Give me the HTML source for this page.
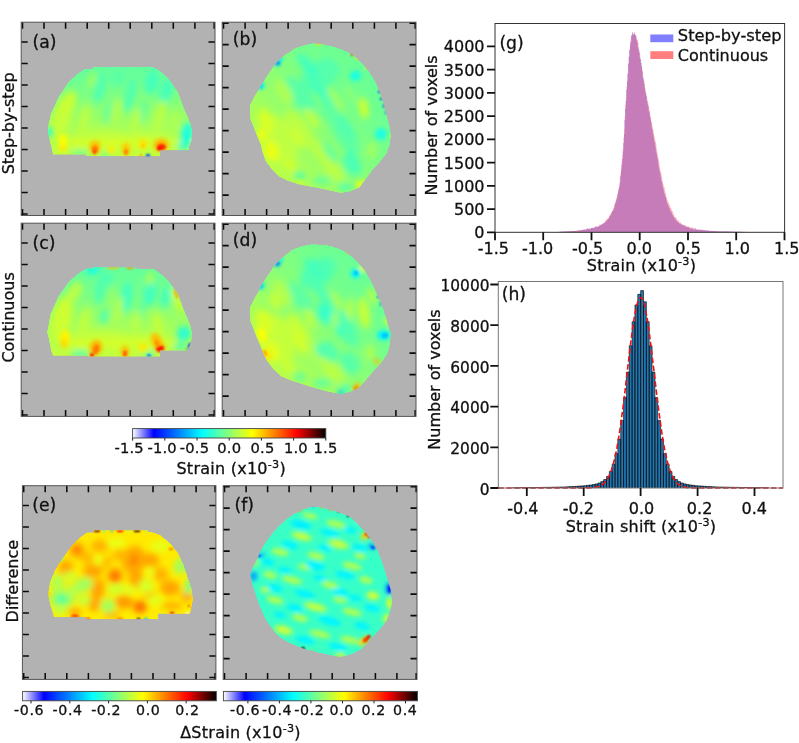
<!DOCTYPE html>
<html><head><meta charset="utf-8"><title>Figure</title>
<style>html,body{margin:0;padding:0;background:#fff}svg{display:block}text{stroke:#111;stroke-width:.3px}</style></head>
<body>
<svg width="799" height="743" viewBox="0 0 799 743" font-family='"DejaVu Sans","Liberation Sans",sans-serif' fill="#111">
<defs>
<linearGradient id="cm" x1="0" x2="1" y1="0" y2="0"><stop offset="0" stop-color="#ffffff"/><stop offset="0.11" stop-color="#0000ff"/><stop offset="0.36" stop-color="#00ffff"/><stop offset="0.49" stop-color="#80ff80"/><stop offset="0.62" stop-color="#ffff00"/><stop offset="0.85" stop-color="#ff0000"/><stop offset="1" stop-color="#000000"/></linearGradient>
<filter id="b2" x="-50%" y="-50%" width="200%" height="200%"><feGaussianBlur stdDeviation="2"/></filter>
<filter id="b3" x="-50%" y="-50%" width="200%" height="200%"><feGaussianBlur stdDeviation="3"/></filter>
<filter id="b1" x="-50%" y="-50%" width="200%" height="200%"><feGaussianBlur stdDeviation="1.2"/></filter>
<linearGradient id="ga" gradientUnits="userSpaceOnUse" x1="0" y1="67" x2="0" y2="156"><stop offset="0" stop-color="#62ff9d"/><stop offset="0.3" stop-color="#7bff85"/><stop offset="0.6" stop-color="#9dff62"/><stop offset="1" stop-color="#c4ff3b"/></linearGradient><clipPath id="ca"><polygon points="85.0,68.8 93.0,68.8 93.0,66.8 152.0,66.8 156.0,68.6 160.0,71.0 168.0,78.0 178.0,92.0 184.0,108.0 190.0,122.0 192.0,130.0 191.6,140.0 189.0,148.0 189.0,150.4 160.0,150.4 160.0,156.4 86.0,156.4 86.0,154.6 53.0,154.6 50.0,142.0 47.6,131.0 48.5,124.0 50.8,114.0 58.5,97.0 68.5,82.0 78.0,73.5"/></clipPath><linearGradient id="gc" gradientUnits="userSpaceOnUse" x1="0" y1="267.6" x2="0" y2="356.6"><stop offset="0" stop-color="#62ff9d"/><stop offset="0.3" stop-color="#7bff85"/><stop offset="0.6" stop-color="#9dff62"/><stop offset="1" stop-color="#c4ff3b"/></linearGradient><clipPath id="cc"><polygon points="87.0,268.4 93.0,268.4 93.0,267.2 135.0,267.2 135.0,268.4 154.0,269.1 160.0,273.1 168.0,280.1 178.0,294.1 184.0,310.1 190.0,324.1 192.0,332.1 191.6,340.1 188.0,350.2 188.0,350.6 160.0,350.6 160.0,356.6 88.0,356.6 88.0,355.8 53.0,355.8 51.0,350.6 49.0,340.1 47.0,332.1 48.5,324.6 50.5,314.1 58.5,296.1 68.5,282.1 78.5,273.1"/></clipPath><linearGradient id="gb" gradientUnits="userSpaceOnUse" x1="262" y1="160" x2="372" y2="70"><stop offset="0" stop-color="#bbff45"/><stop offset="0.35" stop-color="#94ff6c"/><stop offset="0.7" stop-color="#76ff8a"/><stop offset="1" stop-color="#67ff98"/></linearGradient><clipPath id="cb"><polygon points="313.2,43.3 322.0,44.0 331.6,46.0 342.0,49.5 352.2,54.0 362.0,63.0 370.5,73.5 375.5,82.0 379.6,91.8 383.5,103.0 386.5,114.7 389.5,126.0 391.0,135.3 389.8,145.0 386.5,153.6 380.0,162.0 372.8,169.6 366.0,179.0 359.0,187.9 350.0,191.5 340.7,193.0 329.0,190.5 317.8,187.9 308.0,186.3 299.5,184.5 288.0,181.0 278.9,176.5 271.0,168.5 265.2,160.5 262.5,152.0 260.6,144.4 255.0,131.0 250.3,119.3 249.6,105.5 255.5,94.5 262.9,82.6 269.5,72.0 276.6,62.0 285.5,54.5 294.9,48.3 304.0,45.2"/></clipPath><linearGradient id="gd" gradientUnits="userSpaceOnUse" x1="262" y1="361" x2="372" y2="271"><stop offset="0" stop-color="#bbff45"/><stop offset="0.35" stop-color="#94ff6c"/><stop offset="0.7" stop-color="#76ff8a"/><stop offset="1" stop-color="#67ff98"/></linearGradient><clipPath id="cd"><polygon points="311.0,244.2 320.0,244.6 329.3,245.6 338.5,248.5 347.6,252.9 356.5,261.0 364.7,270.0 370.0,279.5 375.0,289.5 379.0,298.5 383.0,307.8 387.0,321.0 391.0,334.0 390.0,344.5 387.6,353.6 382.0,362.0 375.0,369.6 367.0,379.0 359.0,387.9 350.0,392.0 340.7,394.3 329.0,392.0 317.8,389.0 308.5,386.3 299.5,383.3 290.0,380.2 281.2,376.5 273.5,369.5 267.5,361.6 264.0,355.0 261.7,349.0 256.0,335.5 250.3,321.5 249.6,307.8 256.0,295.5 262.9,282.6 268.5,274.0 274.3,265.5 283.0,257.0 292.6,249.5 301.5,246.2"/></clipPath><linearGradient id="ge" gradientUnits="userSpaceOnUse" x1="0" y1="530" x2="0" y2="620"><stop offset="0" stop-color="#ffe900"/><stop offset="1" stop-color="#ffee00"/></linearGradient><clipPath id="ce"><polygon points="87.0,532.4 94.0,532.4 94.0,530.2 148.0,530.2 148.0,532.0 152.0,532.0 160.0,535.0 170.0,543.0 178.0,553.0 184.0,566.0 188.0,578.0 192.0,590.0 193.0,600.0 190.5,612.0 189.5,613.8 158.0,613.8 158.0,619.2 86.0,619.2 86.0,617.2 54.0,617.2 50.0,604.0 48.0,594.0 50.0,582.0 55.0,570.0 62.0,559.0 70.0,548.0 78.0,539.0"/></clipPath><linearGradient id="gf" gradientUnits="userSpaceOnUse" x1="0" y1="506" x2="0" y2="657"><stop offset="0" stop-color="#3bffc4"/><stop offset="0.5" stop-color="#36ffc9"/><stop offset="1" stop-color="#3bffc4"/></linearGradient><clipPath id="cf"><polygon points="313.2,506.4 322.0,507.5 331.6,509.9 341.0,513.0 349.9,516.7 358.0,524.0 365.9,532.8 372.0,541.0 377.3,549.9 381.0,559.0 384.2,568.2 387.8,580.0 391.0,591.0 392.2,602.6 390.0,612.0 386.5,620.9 381.0,628.0 375.0,634.6 368.0,642.5 361.3,649.5 351.0,654.5 340.7,657.0 330.0,655.2 320.0,652.9 309.5,650.5 299.5,647.2 289.0,642.8 278.9,636.9 271.5,628.0 265.2,618.6 260.0,607.0 256.0,595.7 252.5,585.0 250.3,575.1 252.5,568.0 256.0,561.4 260.0,552.0 265.2,543.0 271.0,535.0 277.8,527.0 286.0,519.5 294.9,513.3 304.0,509.0"/></clipPath>
</defs>
<rect width="799" height="743" fill="#fff"/>
<rect x="21.2" y="22.2" width="193.8" height="193.3" fill="#b2b2b2"/>
<g clip-path="url(#ca)" shape-rendering="crispEdges"><polygon points="85.0,68.8 93.0,68.8 93.0,66.8 152.0,66.8 156.0,68.6 160.0,71.0 168.0,78.0 178.0,92.0 184.0,108.0 190.0,122.0 192.0,130.0 191.6,140.0 189.0,148.0 189.0,150.4 160.0,150.4 160.0,156.4 86.0,156.4 86.0,154.6 53.0,154.6 50.0,142.0 47.6,131.0 48.5,124.0 50.8,114.0 58.5,97.0 68.5,82.0 78.0,73.5" fill="url(#ga)"/><g filter="url(#b3)"><ellipse cx="62.0" cy="118.0" rx="9" ry="24" fill="#c4ff3b" transform="rotate(15 62.0 118.0)"/><ellipse cx="100.0" cy="137.0" rx="30" ry="8" fill="#bbff45"/><ellipse cx="150.0" cy="139.0" rx="22" ry="7" fill="#bbff45"/><ellipse cx="100.0" cy="88.0" rx="5" ry="16" fill="#4fffb1" transform="rotate(12 100.0 88.0)"/><ellipse cx="130.0" cy="95.0" rx="5" ry="18" fill="#4fffb1" transform="rotate(12 130.0 95.0)"/><ellipse cx="152.0" cy="82.0" rx="7" ry="12" fill="#45ffbb" transform="rotate(10 152.0 82.0)"/><ellipse cx="166.0" cy="92.0" rx="6" ry="14" fill="#45ffbb" transform="rotate(15 166.0 92.0)"/><ellipse cx="118.0" cy="78.0" rx="6" ry="8" fill="#59ffa7"/><ellipse cx="143.0" cy="112.0" rx="4" ry="12" fill="#62ff9d" transform="rotate(12 143.0 112.0)"/><ellipse cx="108.0" cy="112.0" rx="4" ry="12" fill="#6cff94" transform="rotate(12 108.0 112.0)"/><ellipse cx="92.0" cy="80.0" rx="4" ry="9" fill="#9dff62" transform="rotate(15 92.0 80.0)"/><ellipse cx="68.0" cy="104.0" rx="7" ry="14" fill="#c9ff36" transform="rotate(20 68.0 104.0)"/><ellipse cx="116.0" cy="112.0" rx="4" ry="14" fill="#b6ff4a" transform="rotate(12 116.0 112.0)"/><ellipse cx="136.0" cy="122.0" rx="4" ry="14" fill="#bbff45" transform="rotate(12 136.0 122.0)"/><ellipse cx="160.0" cy="116.0" rx="5" ry="16" fill="#bbff45" transform="rotate(12 160.0 116.0)"/><ellipse cx="84.0" cy="120.0" rx="5" ry="16" fill="#bbff45" transform="rotate(12 84.0 120.0)"/><ellipse cx="60.0" cy="125.0" rx="6" ry="10" fill="#c4ff3b"/><ellipse cx="175.0" cy="120.0" rx="4" ry="10" fill="#b1ff4f" transform="rotate(10 175.0 120.0)"/><ellipse cx="187.0" cy="134.0" rx="6" ry="12" fill="#19ffe7" transform="rotate(8 187.0 134.0)"/><ellipse cx="183.0" cy="146.0" rx="6" ry="4" fill="#27ffd8"/><ellipse cx="120.0" cy="143.0" rx="60" ry="6" fill="#d3ff2c"/><ellipse cx="80.0" cy="153.0" rx="9" ry="2.5" fill="#45ffbb"/><ellipse cx="106.0" cy="155.0" rx="6" ry="2" fill="#4fffb1"/></g><g filter="url(#b2)"><ellipse cx="63.0" cy="143.0" rx="4.5" ry="9" fill="#ffff00" transform="rotate(5 63.0 143.0)"/><ellipse cx="63.0" cy="148.0" rx="3" ry="4" fill="#ffe900"/><ellipse cx="95.0" cy="147.0" rx="5.5" ry="6.5" fill="#ffbc00"/><ellipse cx="111.0" cy="150.0" rx="3.5" ry="4" fill="#ffee00"/><ellipse cx="126.0" cy="149.0" rx="4" ry="6" fill="#ffc800"/><ellipse cx="143.0" cy="144.0" rx="4" ry="5" fill="#ffe300"/><ellipse cx="161.0" cy="145.0" rx="7.5" ry="6" fill="#ffb100"/><ellipse cx="50.0" cy="132.0" rx="2.5" ry="5" fill="#14ffeb"/></g><g filter="url(#b1)"><ellipse cx="95.0" cy="149.5" rx="3" ry="3.8" fill="#ff7a00"/><ellipse cx="94.5" cy="152.0" rx="1.8" ry="2.2" fill="#ff4300"/><ellipse cx="126.0" cy="152.0" rx="2" ry="3.2" fill="#ff8500"/><ellipse cx="143.0" cy="146.0" rx="1.6" ry="1.8" fill="#ffc800"/><ellipse cx="161.5" cy="147.0" rx="4.2" ry="2.8" fill="#ff2c00"/><ellipse cx="159.5" cy="149.0" rx="2.6" ry="1.6" fill="#ff0000"/><ellipse cx="148.0" cy="155.3" rx="2.6" ry="1.6" fill="#005cff"/><ellipse cx="141.0" cy="155.5" rx="1.5" ry="1.2" fill="#ffa600"/><ellipse cx="190.6" cy="140.4" rx="1.1" ry="1.1" fill="#ffffff"/></g></g>
<path d="M22.5 22.2v6.5M22.5 215.5v-6.5M44.0 22.2v6.5M44.0 215.5v-6.5M65.6 22.2v6.5M65.6 215.5v-6.5M87.2 22.2v6.5M87.2 215.5v-6.5M108.7 22.2v6.5M108.7 215.5v-6.5M130.2 22.2v6.5M130.2 215.5v-6.5M151.8 22.2v6.5M151.8 215.5v-6.5M173.3 22.2v6.5M173.3 215.5v-6.5M194.9 22.2v6.5M194.9 215.5v-6.5M214.2 22.2v6.5M214.2 215.5v-6.5M21.2 42.0h6.5M215.0 42.0h-6.5M21.2 63.5h6.5M215.0 63.5h-6.5M21.2 85.0h6.5M215.0 85.0h-6.5M21.2 106.5h6.5M215.0 106.5h-6.5M21.2 128.0h6.5M215.0 128.0h-6.5M21.2 149.5h6.5M215.0 149.5h-6.5M21.2 171.0h6.5M215.0 171.0h-6.5M21.2 192.5h6.5M215.0 192.5h-6.5M21.2 214.0h6.5M215.0 214.0h-6.5" stroke="#0a0a0a" stroke-width="1.55" fill="none"/>
<rect x="21.2" y="22.2" width="193.8" height="193.3" fill="none" stroke="#555" stroke-width="1"/>
<text x="32.5" y="47.8" font-size="17.2">(a)</text>
<rect x="222.2" y="22.2" width="193.8" height="193.3" fill="#b2b2b2"/>
<g clip-path="url(#cb)" shape-rendering="crispEdges"><polygon points="313.2,43.3 322.0,44.0 331.6,46.0 342.0,49.5 352.2,54.0 362.0,63.0 370.5,73.5 375.5,82.0 379.6,91.8 383.5,103.0 386.5,114.7 389.5,126.0 391.0,135.3 389.8,145.0 386.5,153.6 380.0,162.0 372.8,169.6 366.0,179.0 359.0,187.9 350.0,191.5 340.7,193.0 329.0,190.5 317.8,187.9 308.0,186.3 299.5,184.5 288.0,181.0 278.9,176.5 271.0,168.5 265.2,160.5 262.5,152.0 260.6,144.4 255.0,131.0 250.3,119.3 249.6,105.5 255.5,94.5 262.9,82.6 269.5,72.0 276.6,62.0 285.5,54.5 294.9,48.3 304.0,45.2" fill="url(#gb)"/><g filter="url(#b3)"><ellipse cx="320.0" cy="75.0" rx="22" ry="14" fill="#54ffac" transform="rotate(-35 320.0 75.0)"/><ellipse cx="300.0" cy="95.0" rx="10" ry="22" fill="#59ffa7" transform="rotate(-40 300.0 95.0)"/><ellipse cx="345.0" cy="135.0" rx="9" ry="22" fill="#5effa2" transform="rotate(-35 345.0 135.0)"/><ellipse cx="352.0" cy="165.0" rx="9" ry="12" fill="#54ffac" transform="rotate(-30 352.0 165.0)"/><ellipse cx="330.0" cy="112.0" rx="8" ry="14" fill="#62ff9d" transform="rotate(-35 330.0 112.0)"/><ellipse cx="278.0" cy="140.0" rx="18" ry="26" fill="#beff42" transform="rotate(-25 278.0 140.0)"/><ellipse cx="300.0" cy="128.0" rx="8" ry="22" fill="#bbff45" transform="rotate(-38 300.0 128.0)"/><ellipse cx="318.0" cy="150.0" rx="7" ry="20" fill="#b6ff4a" transform="rotate(-40 318.0 150.0)"/><ellipse cx="335.0" cy="172.0" rx="8" ry="12" fill="#b1ff4f" transform="rotate(-40 335.0 172.0)"/><ellipse cx="284.0" cy="92.0" rx="7" ry="14" fill="#acff54" transform="rotate(-30 284.0 92.0)"/><ellipse cx="308.0" cy="66.0" rx="5" ry="16" fill="#40ffc0" transform="rotate(-40 308.0 66.0)"/><ellipse cx="322.0" cy="92.0" rx="5" ry="18" fill="#45ffbb" transform="rotate(-40 322.0 92.0)"/><ellipse cx="346.0" cy="127.0" rx="5" ry="16" fill="#4fffb1" transform="rotate(-35 346.0 127.0)"/><ellipse cx="330.0" cy="152.0" rx="4" ry="12" fill="#62ff9d" transform="rotate(-35 330.0 152.0)"/><ellipse cx="353.0" cy="160.0" rx="5" ry="12" fill="#4affb6" transform="rotate(-30 353.0 160.0)"/><ellipse cx="312.0" cy="118.0" rx="4" ry="12" fill="#c0ff40" transform="rotate(-35 312.0 118.0)"/><ellipse cx="298.0" cy="138.0" rx="4" ry="12" fill="#ceff31" transform="rotate(-35 298.0 138.0)"/><ellipse cx="336.0" cy="100.0" rx="4" ry="14" fill="#a2ff5e" transform="rotate(-35 336.0 100.0)"/><ellipse cx="330.0" cy="168.0" rx="5" ry="12" fill="#bbff45" transform="rotate(-40 330.0 168.0)"/><ellipse cx="290.0" cy="165.0" rx="6" ry="8" fill="#ceff31" transform="rotate(-30 290.0 165.0)"/><ellipse cx="363.6" cy="108.0" rx="4.5" ry="11" fill="#d3ff2c" transform="rotate(-10 363.6 108.0)"/><ellipse cx="372.0" cy="150.0" rx="5" ry="8" fill="#a2ff5e"/><ellipse cx="350.0" cy="95.0" rx="4" ry="10" fill="#8aff76" transform="rotate(-30 350.0 95.0)"/><ellipse cx="266.0" cy="122.0" rx="7" ry="14" fill="#d8ff27" transform="rotate(-15 266.0 122.0)"/><ellipse cx="272.0" cy="150.0" rx="7" ry="11" fill="#e7ff19" transform="rotate(-30 272.0 150.0)"/><ellipse cx="322.0" cy="181.0" rx="10" ry="4" fill="#67ff98"/><ellipse cx="345.0" cy="187.0" rx="8" ry="3" fill="#45ffbb"/><ellipse cx="300.0" cy="176.0" rx="6" ry="4" fill="#4fffb1" transform="rotate(20 300.0 176.0)"/><ellipse cx="340.0" cy="60.0" rx="8" ry="5" fill="#71ff8f" transform="rotate(20 340.0 60.0)"/></g><g filter="url(#b2)"><ellipse cx="355.6" cy="75.8" rx="5.5" ry="5" fill="#19ffe7"/><ellipse cx="381.0" cy="134.0" rx="6" ry="6" fill="#1effe2"/><ellipse cx="262.0" cy="135.0" rx="3.5" ry="7" fill="#ebff14" transform="rotate(-10 262.0 135.0)"/><ellipse cx="270.0" cy="154.0" rx="3.5" ry="6" fill="#ebff14" transform="rotate(-35 270.0 154.0)"/><ellipse cx="278.0" cy="63.5" rx="3" ry="2" fill="#00c2ff" transform="rotate(-40 278.0 63.5)"/><ellipse cx="262.0" cy="86.0" rx="2" ry="4" fill="#00ebff" transform="rotate(30 262.0 86.0)"/><ellipse cx="360.0" cy="184.0" rx="5" ry="3" fill="#ebff14" transform="rotate(-40 360.0 184.0)"/><ellipse cx="300.0" cy="182.5" rx="4" ry="2" fill="#d8ff27" transform="rotate(10 300.0 182.5)"/></g><g filter="url(#b1)"><ellipse cx="278.3" cy="63.0" rx="2.4" ry="1.4" fill="#0099ff" transform="rotate(-40 278.3 63.0)"/><ellipse cx="282.0" cy="59.5" rx="2" ry="1.2" fill="#00ffff" transform="rotate(-40 282.0 59.5)"/><ellipse cx="261.5" cy="86.5" rx="1.4" ry="3" fill="#00e0ff" transform="rotate(30 261.5 86.5)"/><ellipse cx="352.0" cy="54.5" rx="1.8" ry="1.2" fill="#ff3700" transform="rotate(40 352.0 54.5)"/><ellipse cx="356.0" cy="58.5" rx="2" ry="1" fill="#ffd300" transform="rotate(40 356.0 58.5)"/><ellipse cx="318.0" cy="44.0" rx="3" ry="1" fill="#ffd300"/><ellipse cx="366.0" cy="68.0" rx="1.4" ry="1.4" fill="#ffe900"/><ellipse cx="379.0" cy="92.0" rx="1" ry="1.6" fill="#0029ff"/><ellipse cx="381.0" cy="99.0" rx="1" ry="1.6" fill="#0029ff"/><ellipse cx="383.5" cy="106.0" rx="1" ry="1.6" fill="#0029ff"/><ellipse cx="385.5" cy="112.5" rx="1" ry="1.2" fill="#0047ff"/><ellipse cx="391.0" cy="136.0" rx="1.2" ry="1.2" fill="#ebff14"/></g></g>
<path d="M223.5 22.2v6.5M223.5 215.5v-6.5M245.1 22.2v6.5M245.1 215.5v-6.5M266.6 22.2v6.5M266.6 215.5v-6.5M288.1 22.2v6.5M288.1 215.5v-6.5M309.7 22.2v6.5M309.7 215.5v-6.5M331.2 22.2v6.5M331.2 215.5v-6.5M352.8 22.2v6.5M352.8 215.5v-6.5M374.4 22.2v6.5M374.4 215.5v-6.5M395.9 22.2v6.5M395.9 215.5v-6.5M415.2 22.2v6.5M415.2 215.5v-6.5M222.2 23.1h6.5M416.0 23.1h-6.5M222.2 44.6h6.5M416.0 44.6h-6.5M222.2 66.1h6.5M416.0 66.1h-6.5M222.2 87.6h6.5M416.0 87.6h-6.5M222.2 109.1h6.5M416.0 109.1h-6.5M222.2 130.6h6.5M416.0 130.6h-6.5M222.2 152.1h6.5M416.0 152.1h-6.5M222.2 173.6h6.5M416.0 173.6h-6.5M222.2 195.1h6.5M416.0 195.1h-6.5" stroke="#0a0a0a" stroke-width="1.55" fill="none"/>
<rect x="222.2" y="22.2" width="193.8" height="193.3" fill="none" stroke="#555" stroke-width="1"/>
<text x="232.8" y="45.1" font-size="17.2">(b)</text>
<rect x="21.2" y="223.2" width="193.8" height="193.2" fill="#b2b2b2"/>
<g clip-path="url(#cc)" shape-rendering="crispEdges"><polygon points="87.0,268.4 93.0,268.4 93.0,267.2 135.0,267.2 135.0,268.4 154.0,269.1 160.0,273.1 168.0,280.1 178.0,294.1 184.0,310.1 190.0,324.1 192.0,332.1 191.6,340.1 188.0,350.2 188.0,350.6 160.0,350.6 160.0,356.6 88.0,356.6 88.0,355.8 53.0,355.8 51.0,350.6 49.0,340.1 47.0,332.1 48.5,324.6 50.5,314.1 58.5,296.1 68.5,282.1 78.5,273.1" fill="url(#gc)"/><g filter="url(#b3)"><ellipse cx="62.0" cy="318.6" rx="10" ry="24" fill="#c9ff36" transform="rotate(15 62.0 318.6)"/><ellipse cx="100.0" cy="337.6" rx="30" ry="8" fill="#c0ff40"/><ellipse cx="150.0" cy="339.6" rx="20" ry="7" fill="#c0ff40"/><ellipse cx="100.0" cy="290.6" rx="5" ry="14" fill="#4fffb1" transform="rotate(10 100.0 290.6)"/><ellipse cx="127.0" cy="296.6" rx="6" ry="16" fill="#45ffbb" transform="rotate(5 127.0 296.6)"/><ellipse cx="150.0" cy="292.6" rx="7" ry="14" fill="#45ffbb" transform="rotate(10 150.0 292.6)"/><ellipse cx="166.0" cy="296.6" rx="5" ry="12" fill="#45ffbb" transform="rotate(15 166.0 296.6)"/><ellipse cx="106.0" cy="278.6" rx="7" ry="7" fill="#4fffb1"/><ellipse cx="92.0" cy="270.6" rx="6" ry="4" fill="#27ffd8"/><ellipse cx="104.0" cy="316.6" rx="4" ry="8" fill="#4fffb1" transform="rotate(10 104.0 316.6)"/><ellipse cx="140.0" cy="312.6" rx="4" ry="12" fill="#62ff9d" transform="rotate(12 140.0 312.6)"/><ellipse cx="74.0" cy="292.6" rx="6" ry="12" fill="#bbff45" transform="rotate(30 74.0 292.6)"/><ellipse cx="62.0" cy="315.6" rx="8" ry="14" fill="#ceff31" transform="rotate(10 62.0 315.6)"/><ellipse cx="118.0" cy="310.6" rx="4" ry="14" fill="#b1ff4f" transform="rotate(12 118.0 310.6)"/><ellipse cx="136.0" cy="322.6" rx="4" ry="12" fill="#bbff45" transform="rotate(12 136.0 322.6)"/><ellipse cx="158.0" cy="325.6" rx="5" ry="14" fill="#c4ff3b" transform="rotate(-10 158.0 325.6)"/><ellipse cx="84.0" cy="322.6" rx="5" ry="16" fill="#c0ff40" transform="rotate(12 84.0 322.6)"/><ellipse cx="150.0" cy="278.6" rx="4" ry="7" fill="#a7ff59" transform="rotate(10 150.0 278.6)"/><ellipse cx="112.0" cy="296.6" rx="3" ry="10" fill="#9dff62" transform="rotate(10 112.0 296.6)"/><ellipse cx="184.0" cy="333.6" rx="7" ry="8" fill="#27ffd8" transform="rotate(10 184.0 333.6)"/><ellipse cx="180.0" cy="346.6" rx="7" ry="4" fill="#4fffb1"/><ellipse cx="118.0" cy="343.6" rx="58" ry="6" fill="#d3ff2c"/><ellipse cx="80.0" cy="353.6" rx="9" ry="3" fill="#31ffce"/><ellipse cx="149.0" cy="354.6" rx="6" ry="2.2" fill="#14ffeb"/><ellipse cx="177.0" cy="300.6" rx="2.5" ry="14" fill="#ebff14" transform="rotate(-20 177.0 300.6)"/></g><g filter="url(#b2)"><ellipse cx="65.0" cy="338.6" rx="5" ry="9" fill="#fff400" transform="rotate(5 65.0 338.6)"/><ellipse cx="64.0" cy="343.6" rx="3" ry="5" fill="#ffd800"/><ellipse cx="96.0" cy="347.6" rx="6" ry="7.5" fill="#ffb100" transform="rotate(15 96.0 347.6)"/><ellipse cx="125.0" cy="351.6" rx="4" ry="5.5" fill="#ffbc00"/><ellipse cx="143.0" cy="347.6" rx="4" ry="4" fill="#ffe900"/><ellipse cx="157.0" cy="341.6" rx="5" ry="9" fill="#ffbc00" transform="rotate(-25 157.0 341.6)"/><ellipse cx="160.0" cy="347.6" rx="5" ry="4" fill="#ffa600"/><ellipse cx="100.0" cy="267.4" rx="4" ry="1.2" fill="#3bffc4"/><ellipse cx="93.0" cy="270.1" rx="5" ry="2.5" fill="#1effe2"/></g><g filter="url(#b1)"><ellipse cx="113.0" cy="267.8" rx="7" ry="0.9" fill="#ffbc00"/><ellipse cx="130.0" cy="267.8" rx="4.5" ry="0.9" fill="#ff9000"/><ellipse cx="96.0" cy="349.6" rx="3" ry="4.6" fill="#ff7a00" transform="rotate(20 96.0 349.6)"/><ellipse cx="92.0" cy="355.1" rx="2.4" ry="1.8" fill="#ff2100"/><ellipse cx="125.0" cy="353.6" rx="2.4" ry="3" fill="#ff6400"/><ellipse cx="160.0" cy="348.6" rx="4" ry="2.8" fill="#ff1600" transform="rotate(-20 160.0 348.6)"/><ellipse cx="157.0" cy="343.6" rx="2" ry="3.6" fill="#ff9000" transform="rotate(-25 157.0 343.6)"/><ellipse cx="176.0" cy="293.6" rx="1.2" ry="6" fill="#ffa600" transform="rotate(-20 176.0 293.6)"/><ellipse cx="189.4" cy="345.6" rx="1.2" ry="2.6" fill="#0029ff" transform="rotate(20 189.4 345.6)"/><ellipse cx="187.0" cy="349.6" rx="1" ry="1" fill="#0029ff"/><ellipse cx="149.0" cy="355.6" rx="2.4" ry="1.3" fill="#0070ff"/></g></g>
<path d="M22.5 223.2v6.5M22.5 416.4v-6.5M44.0 223.2v6.5M44.0 416.4v-6.5M65.6 223.2v6.5M65.6 416.4v-6.5M87.2 223.2v6.5M87.2 416.4v-6.5M108.7 223.2v6.5M108.7 416.4v-6.5M130.2 223.2v6.5M130.2 416.4v-6.5M151.8 223.2v6.5M151.8 416.4v-6.5M173.3 223.2v6.5M173.3 416.4v-6.5M194.9 223.2v6.5M194.9 416.4v-6.5M214.2 223.2v6.5M214.2 416.4v-6.5M21.2 243.0h6.5M215.0 243.0h-6.5M21.2 264.5h6.5M215.0 264.5h-6.5M21.2 286.0h6.5M215.0 286.0h-6.5M21.2 307.5h6.5M215.0 307.5h-6.5M21.2 329.0h6.5M215.0 329.0h-6.5M21.2 350.5h6.5M215.0 350.5h-6.5M21.2 372.0h6.5M215.0 372.0h-6.5M21.2 393.5h6.5M215.0 393.5h-6.5M21.2 415.0h6.5M215.0 415.0h-6.5" stroke="#0a0a0a" stroke-width="1.55" fill="none"/>
<rect x="21.2" y="223.2" width="193.8" height="193.2" fill="none" stroke="#555" stroke-width="1"/>
<text x="32.5" y="248.8" font-size="17.2">(c)</text>
<rect x="222.2" y="223.2" width="193.8" height="193.2" fill="#b2b2b2"/>
<g clip-path="url(#cd)" shape-rendering="crispEdges"><polygon points="311.0,244.2 320.0,244.6 329.3,245.6 338.5,248.5 347.6,252.9 356.5,261.0 364.7,270.0 370.0,279.5 375.0,289.5 379.0,298.5 383.0,307.8 387.0,321.0 391.0,334.0 390.0,344.5 387.6,353.6 382.0,362.0 375.0,369.6 367.0,379.0 359.0,387.9 350.0,392.0 340.7,394.3 329.0,392.0 317.8,389.0 308.5,386.3 299.5,383.3 290.0,380.2 281.2,376.5 273.5,369.5 267.5,361.6 264.0,355.0 261.7,349.0 256.0,335.5 250.3,321.5 249.6,307.8 256.0,295.5 262.9,282.6 268.5,274.0 274.3,265.5 283.0,257.0 292.6,249.5 301.5,246.2" fill="url(#gd)"/><g filter="url(#b3)"><ellipse cx="318.0" cy="273.0" rx="20" ry="13" fill="#4fffb1" transform="rotate(-35 318.0 273.0)"/><ellipse cx="300.0" cy="297.0" rx="9" ry="18" fill="#5effa2" transform="rotate(-40 300.0 297.0)"/><ellipse cx="346.0" cy="329.0" rx="9" ry="20" fill="#59ffa7" transform="rotate(-30 346.0 329.0)"/><ellipse cx="350.0" cy="363.0" rx="9" ry="12" fill="#59ffa7" transform="rotate(-30 350.0 363.0)"/><ellipse cx="326.0" cy="313.0" rx="9" ry="12" fill="#45ffbb" transform="rotate(-20 326.0 313.0)"/><ellipse cx="330.0" cy="351.0" rx="7" ry="12" fill="#54ffac" transform="rotate(-35 330.0 351.0)"/><ellipse cx="276.0" cy="339.0" rx="18" ry="26" fill="#c4ff3b" transform="rotate(-25 276.0 339.0)"/><ellipse cx="300.0" cy="333.0" rx="8" ry="22" fill="#c4ff3b" transform="rotate(-30 300.0 333.0)"/><ellipse cx="316.0" cy="353.0" rx="6" ry="16" fill="#b1ff4f" transform="rotate(-40 316.0 353.0)"/><ellipse cx="335.0" cy="373.0" rx="8" ry="12" fill="#b1ff4f" transform="rotate(-40 335.0 373.0)"/><ellipse cx="282.0" cy="293.0" rx="8" ry="14" fill="#b1ff4f" transform="rotate(-30 282.0 293.0)"/><ellipse cx="315.0" cy="269.0" rx="6" ry="14" fill="#45ffbb" transform="rotate(-45 315.0 269.0)"/><ellipse cx="322.0" cy="293.0" rx="5" ry="16" fill="#4fffb1" transform="rotate(-40 322.0 293.0)"/><ellipse cx="346.0" cy="323.0" rx="5" ry="16" fill="#4fffb1" transform="rotate(-30 346.0 323.0)"/><ellipse cx="324.7" cy="312.4" rx="5" ry="7" fill="#31ffce"/><ellipse cx="340.0" cy="331.0" rx="3.5" ry="6" fill="#3bffc4"/><ellipse cx="320.0" cy="351.0" rx="4" ry="8" fill="#4fffb1" transform="rotate(-30 320.0 351.0)"/><ellipse cx="275.0" cy="301.0" rx="5" ry="9" fill="#c4ff3b" transform="rotate(-20 275.0 301.0)"/><ellipse cx="310.0" cy="319.0" rx="4" ry="12" fill="#bbff45" transform="rotate(-25 310.0 319.0)"/><ellipse cx="300.0" cy="341.0" rx="5" ry="14" fill="#d3ff2c" transform="rotate(-20 300.0 341.0)"/><ellipse cx="337.0" cy="301.0" rx="4" ry="12" fill="#a7ff59" transform="rotate(-35 337.0 301.0)"/><ellipse cx="350.0" cy="309.0" rx="3" ry="12" fill="#c0ff40"/><ellipse cx="330.0" cy="371.0" rx="5" ry="10" fill="#bbff45" transform="rotate(-40 330.0 371.0)"/><ellipse cx="288.0" cy="366.0" rx="6" ry="8" fill="#c9ff36" transform="rotate(-30 288.0 366.0)"/><ellipse cx="364.0" cy="313.0" rx="6" ry="16" fill="#c4ff3b" transform="rotate(-10 364.0 313.0)"/><ellipse cx="370.0" cy="353.0" rx="5" ry="8" fill="#acff54"/><ellipse cx="335.0" cy="319.0" rx="3" ry="8" fill="#acff54"/><ellipse cx="372.0" cy="296.0" rx="4" ry="10" fill="#b1ff4f" transform="rotate(-20 372.0 296.0)"/><ellipse cx="264.0" cy="323.0" rx="8" ry="14" fill="#d8ff27" transform="rotate(-15 264.0 323.0)"/><ellipse cx="272.0" cy="351.0" rx="7" ry="11" fill="#e2ff1e" transform="rotate(-30 272.0 351.0)"/><ellipse cx="322.0" cy="383.0" rx="10" ry="4" fill="#62ff9d"/><ellipse cx="345.0" cy="389.0" rx="7" ry="3" fill="#3bffc4"/><ellipse cx="300.0" cy="377.0" rx="6" ry="4" fill="#59ffa7" transform="rotate(20 300.0 377.0)"/><ellipse cx="340.0" cy="259.0" rx="8" ry="5" fill="#6cff94" transform="rotate(20 340.0 259.0)"/></g><g filter="url(#b2)"><ellipse cx="355.6" cy="273.5" rx="5" ry="5" fill="#00f5ff"/><ellipse cx="383.5" cy="335.3" rx="6.5" ry="5" fill="#00f5ff"/><ellipse cx="261.7" cy="335.3" rx="4" ry="8" fill="#ffff00" transform="rotate(-15 261.7 335.3)"/><ellipse cx="267.5" cy="354.7" rx="3.5" ry="6" fill="#ffe900" transform="rotate(-35 267.5 354.7)"/><ellipse cx="277.8" cy="263.9" rx="3.5" ry="2" fill="#00b8ff" transform="rotate(-40 277.8 263.9)"/><ellipse cx="262.0" cy="286.0" rx="2" ry="4" fill="#00e0ff" transform="rotate(30 262.0 286.0)"/><ellipse cx="356.5" cy="386.8" rx="4.5" ry="2.5" fill="#ffb100" transform="rotate(-40 356.5 386.8)"/><ellipse cx="377.0" cy="361.6" rx="2" ry="3.5" fill="#ffbc00" transform="rotate(-40 377.0 361.6)"/><ellipse cx="340.7" cy="393.0" rx="3.5" ry="1.6" fill="#00c2ff"/><ellipse cx="362.0" cy="269.0" rx="2" ry="4" fill="#ffff00" transform="rotate(-45 362.0 269.0)"/><ellipse cx="386.5" cy="321.0" rx="1.5" ry="4" fill="#ffff00" transform="rotate(-15 386.5 321.0)"/></g><g filter="url(#b1)"><ellipse cx="278.0" cy="263.6" rx="2.6" ry="1.4" fill="#008fff" transform="rotate(-40 278.0 263.6)"/><ellipse cx="282.0" cy="260.0" rx="2" ry="1.2" fill="#00ffff" transform="rotate(-40 282.0 260.0)"/><ellipse cx="261.5" cy="286.5" rx="1.4" ry="3" fill="#00d6ff" transform="rotate(30 261.5 286.5)"/><ellipse cx="356.0" cy="273.0" rx="2.4" ry="2.4" fill="#00c2ff"/><ellipse cx="385.0" cy="335.6" rx="3" ry="2.4" fill="#00c2ff"/><ellipse cx="348.0" cy="253.0" rx="1.8" ry="1" fill="#ffa600" transform="rotate(40 348.0 253.0)"/><ellipse cx="265.0" cy="353.0" rx="1.5" ry="3" fill="#ffa600" transform="rotate(-30 265.0 353.0)"/><ellipse cx="378.0" cy="297.0" rx="1" ry="1.6" fill="#005cff"/><ellipse cx="380.5" cy="304.0" rx="1" ry="1.6" fill="#005cff"/><ellipse cx="356.0" cy="388.0" rx="2.2" ry="1.3" fill="#ff7a00" transform="rotate(-40 356.0 388.0)"/></g></g>
<path d="M223.5 223.2v6.5M223.5 416.4v-6.5M245.1 223.2v6.5M245.1 416.4v-6.5M266.6 223.2v6.5M266.6 416.4v-6.5M288.1 223.2v6.5M288.1 416.4v-6.5M309.7 223.2v6.5M309.7 416.4v-6.5M331.2 223.2v6.5M331.2 416.4v-6.5M352.8 223.2v6.5M352.8 416.4v-6.5M374.4 223.2v6.5M374.4 416.4v-6.5M395.9 223.2v6.5M395.9 416.4v-6.5M415.2 223.2v6.5M415.2 416.4v-6.5M222.2 224.1h6.5M416.0 224.1h-6.5M222.2 245.6h6.5M416.0 245.6h-6.5M222.2 267.1h6.5M416.0 267.1h-6.5M222.2 288.6h6.5M416.0 288.6h-6.5M222.2 310.1h6.5M416.0 310.1h-6.5M222.2 331.6h6.5M416.0 331.6h-6.5M222.2 353.1h6.5M416.0 353.1h-6.5M222.2 374.6h6.5M416.0 374.6h-6.5M222.2 396.1h6.5M416.0 396.1h-6.5" stroke="#0a0a0a" stroke-width="1.55" fill="none"/>
<rect x="222.2" y="223.2" width="193.8" height="193.2" fill="none" stroke="#555" stroke-width="1"/>
<text x="232.8" y="246.1" font-size="17.2">(d)</text>
<rect x="22.4" y="485.7" width="193.5" height="193.7" fill="#b2b2b2"/>
<g clip-path="url(#ce)" shape-rendering="crispEdges"><polygon points="87.0,532.4 94.0,532.4 94.0,530.2 148.0,530.2 148.0,532.0 152.0,532.0 160.0,535.0 170.0,543.0 178.0,553.0 184.0,566.0 188.0,578.0 192.0,590.0 193.0,600.0 190.5,612.0 189.5,613.8 158.0,613.8 158.0,619.2 86.0,619.2 86.0,617.2 54.0,617.2 50.0,604.0 48.0,594.0 50.0,582.0 55.0,570.0 62.0,559.0 70.0,548.0 78.0,539.0" fill="url(#ge)"/><g filter="url(#b3)"><ellipse cx="77.0" cy="550.0" rx="8" ry="8" fill="#ffa600"/><ellipse cx="100.0" cy="546.0" rx="9" ry="6" fill="#ffb100"/><ellipse cx="66.0" cy="568.0" rx="7" ry="8" fill="#ffa600"/><ellipse cx="93.0" cy="571.0" rx="10" ry="7" fill="#ffa600"/><ellipse cx="115.0" cy="576.0" rx="8" ry="8" fill="#ff9600"/><ellipse cx="134.0" cy="560.0" rx="12" ry="14" fill="#ffa600" transform="rotate(10 134.0 560.0)"/><ellipse cx="151.0" cy="560.0" rx="8" ry="7" fill="#ffa600"/><ellipse cx="136.0" cy="578.0" rx="7" ry="10" fill="#ffa600"/><ellipse cx="98.0" cy="590.0" rx="7" ry="11" fill="#ffa600" transform="rotate(10 98.0 590.0)"/><ellipse cx="124.0" cy="602.0" rx="9" ry="7" fill="#ff9b00"/><ellipse cx="140.0" cy="607.0" rx="8" ry="7" fill="#ff9600"/><ellipse cx="94.0" cy="604.0" rx="6" ry="8" fill="#ffa600"/><ellipse cx="170.0" cy="588.0" rx="10" ry="8" fill="#ffa600"/><ellipse cx="187.0" cy="596.0" rx="6" ry="6" fill="#ffa600"/><ellipse cx="160.0" cy="574.0" rx="8" ry="7" fill="#ffb100"/><ellipse cx="120.0" cy="555.0" rx="8" ry="6" fill="#ffb700"/><ellipse cx="75.0" cy="612.0" rx="7" ry="4" fill="#ffa600"/><ellipse cx="112.0" cy="615.0" rx="9" ry="3" fill="#ffb100"/><ellipse cx="172.0" cy="606.0" rx="11" ry="4" fill="#ffb100"/><ellipse cx="88.0" cy="558.0" rx="8" ry="6" fill="#ffbc00"/><ellipse cx="106.0" cy="562.0" rx="6" ry="6" fill="#ffbc00"/><ellipse cx="150.0" cy="596.0" rx="6" ry="5" fill="#ffbc00"/><ellipse cx="62.0" cy="599.0" rx="12" ry="8" fill="#8aff76"/><ellipse cx="83.0" cy="585.0" rx="10" ry="7" fill="#a2ff5e" transform="rotate(-20 83.0 585.0)"/><ellipse cx="57.0" cy="583.0" rx="7" ry="9" fill="#b1ff4f"/><ellipse cx="108.0" cy="606.0" rx="7" ry="7" fill="#a2ff5e"/><ellipse cx="116.0" cy="589.0" rx="9" ry="6" fill="#d3ff2c"/><ellipse cx="146.0" cy="586.0" rx="8" ry="7" fill="#d8ff27"/><ellipse cx="180.0" cy="566.0" rx="6" ry="8" fill="#9dff62" transform="rotate(20 180.0 566.0)"/><ellipse cx="189.0" cy="586.0" rx="3.5" ry="9" fill="#6cff94" transform="rotate(10 189.0 586.0)"/><ellipse cx="116.0" cy="543.0" rx="10" ry="5" fill="#ebff14"/><ellipse cx="160.0" cy="546.0" rx="10" ry="6" fill="#e7ff19"/><ellipse cx="72.0" cy="591.0" rx="8" ry="6" fill="#b6ff4a"/><ellipse cx="155.0" cy="600.0" rx="8" ry="5" fill="#e2ff1e"/><ellipse cx="60.0" cy="610.0" rx="8" ry="5" fill="#c4ff3b"/><ellipse cx="130.0" cy="590.0" rx="6" ry="5" fill="#e2ff1e"/><ellipse cx="70.0" cy="576.0" rx="6" ry="5" fill="#ceff31"/><ellipse cx="98.0" cy="560.0" rx="5" ry="5" fill="#ebff14"/><ellipse cx="150.0" cy="572.0" rx="5" ry="5" fill="#ebff14"/><ellipse cx="84.0" cy="600.0" rx="7" ry="5" fill="#c4ff3b"/></g><g filter="url(#b2)"><ellipse cx="62.0" cy="599.0" rx="4" ry="3.5" fill="#59ffa7"/><ellipse cx="115.0" cy="576.0" rx="3.5" ry="4" fill="#ff7a00"/><ellipse cx="140.0" cy="607.0" rx="4" ry="4" fill="#ff7a00"/><ellipse cx="134.0" cy="560.0" rx="4" ry="5" fill="#ff8b00"/><ellipse cx="77.0" cy="550.0" rx="3" ry="3" fill="#ff8500"/><ellipse cx="188.0" cy="566.0" rx="2" ry="5" fill="#59ffa7" transform="rotate(20 188.0 566.0)"/></g><g filter="url(#b1)"><ellipse cx="97.0" cy="531.0" rx="3.5" ry="1.2" fill="#770000"/><ellipse cx="104.0" cy="531.0" rx="1.5" ry="1.2" fill="#27ffd8"/><ellipse cx="112.0" cy="531.0" rx="1.6" ry="1.1" fill="#00c2ff"/><ellipse cx="120.0" cy="531.0" rx="3" ry="1.1" fill="#ff0000"/><ellipse cx="129.0" cy="531.0" rx="2" ry="1.1" fill="#bbff45"/><ellipse cx="137.0" cy="531.0" rx="3.5" ry="1.2" fill="#330000"/><ellipse cx="146.0" cy="531.0" rx="1.5" ry="1.1" fill="#8aff76"/><ellipse cx="75.0" cy="616.3" rx="4" ry="1.2" fill="#ff0b00"/><ellipse cx="88.0" cy="618.6" rx="2.5" ry="1.1" fill="#ff0b00"/><ellipse cx="120.0" cy="618.6" rx="3" ry="1" fill="#ff4e00"/><ellipse cx="138.5" cy="618.8" rx="1.4" ry="1.1" fill="#220000"/><ellipse cx="146.0" cy="618.8" rx="2.6" ry="1.1" fill="#00c2ff"/><ellipse cx="172.0" cy="613.0" rx="2.5" ry="1.2" fill="#ee0000"/><ellipse cx="187.4" cy="612.8" rx="1.4" ry="1.2" fill="#ffffff"/><ellipse cx="189.0" cy="606.0" rx="1.3" ry="1.3" fill="#ff3700"/><ellipse cx="171.0" cy="549.0" rx="2" ry="1.6" fill="#ff6f00"/><ellipse cx="62.0" cy="559.0" rx="1.2" ry="2" fill="#59ffa7"/><ellipse cx="48.6" cy="594.0" rx="1" ry="1.5" fill="#ff6f00"/></g></g>
<path d="M23.7 485.7v6.5M23.7 679.4v-6.5M45.2 485.7v6.5M45.2 679.4v-6.5M66.8 485.7v6.5M66.8 679.4v-6.5M88.4 485.7v6.5M88.4 679.4v-6.5M109.9 485.7v6.5M109.9 679.4v-6.5M131.4 485.7v6.5M131.4 679.4v-6.5M153.0 485.7v6.5M153.0 679.4v-6.5M174.5 485.7v6.5M174.5 679.4v-6.5M196.1 485.7v6.5M196.1 679.4v-6.5M215.1 485.7v6.5M215.1 679.4v-6.5M22.4 505.5h6.5M215.9 505.5h-6.5M22.4 527.0h6.5M215.9 527.0h-6.5M22.4 548.5h6.5M215.9 548.5h-6.5M22.4 570.0h6.5M215.9 570.0h-6.5M22.4 591.5h6.5M215.9 591.5h-6.5M22.4 613.0h6.5M215.9 613.0h-6.5M22.4 634.5h6.5M215.9 634.5h-6.5M22.4 656.0h6.5M215.9 656.0h-6.5M22.4 677.5h6.5M215.9 677.5h-6.5" stroke="#0a0a0a" stroke-width="1.55" fill="none"/>
<rect x="22.4" y="485.7" width="193.5" height="193.7" fill="none" stroke="#555" stroke-width="1"/>
<text x="32.2" y="510.9" font-size="17.2">(e)</text>
<rect x="223.2" y="485.7" width="193.8" height="193.7" fill="#b2b2b2"/>
<g clip-path="url(#cf)" shape-rendering="crispEdges"><polygon points="313.2,506.4 322.0,507.5 331.6,509.9 341.0,513.0 349.9,516.7 358.0,524.0 365.9,532.8 372.0,541.0 377.3,549.9 381.0,559.0 384.2,568.2 387.8,580.0 391.0,591.0 392.2,602.6 390.0,612.0 386.5,620.9 381.0,628.0 375.0,634.6 368.0,642.5 361.3,649.5 351.0,654.5 340.7,657.0 330.0,655.2 320.0,652.9 309.5,650.5 299.5,647.2 289.0,642.8 278.9,636.9 271.5,628.0 265.2,618.6 260.0,607.0 256.0,595.7 252.5,585.0 250.3,575.1 252.5,568.0 256.0,561.4 260.0,552.0 265.2,543.0 271.0,535.0 277.8,527.0 286.0,519.5 294.9,513.3 304.0,509.0" fill="url(#gf)"/><g filter="url(#b3)"></g><g filter="url(#b2)"><ellipse cx="301.8" cy="536.2" rx="11" ry="4" fill="#acff54" transform="rotate(14 301.8 536.2)"/><ellipse cx="338.4" cy="544.2" rx="11" ry="4.5" fill="#acff54" transform="rotate(14 338.4 544.2)"/><ellipse cx="280.0" cy="552.0" rx="9" ry="3.5" fill="#acff54" transform="rotate(14 280.0 552.0)"/><ellipse cx="316.0" cy="556.0" rx="9" ry="3.5" fill="#acff54" transform="rotate(14 316.0 556.0)"/><ellipse cx="352.0" cy="566.0" rx="10" ry="3.5" fill="#acff54" transform="rotate(14 352.0 566.0)"/><ellipse cx="292.0" cy="580.0" rx="11" ry="3.5" fill="#acff54" transform="rotate(14 292.0 580.0)"/><ellipse cx="330.0" cy="585.0" rx="9" ry="3.5" fill="#acff54" transform="rotate(14 330.0 585.0)"/><ellipse cx="366.0" cy="580.0" rx="7" ry="3.5" fill="#acff54" transform="rotate(14 366.0 580.0)"/><ellipse cx="275.0" cy="600.0" rx="9" ry="3.5" fill="#acff54" transform="rotate(14 275.0 600.0)"/><ellipse cx="315.5" cy="607.0" rx="12" ry="4" fill="#acff54" transform="rotate(14 315.5 607.0)"/><ellipse cx="352.0" cy="612.0" rx="10" ry="3.5" fill="#acff54" transform="rotate(14 352.0 612.0)"/><ellipse cx="372.8" cy="595.7" rx="7" ry="4.5" fill="#acff54" transform="rotate(14 372.8 595.7)"/><ellipse cx="283.5" cy="630.0" rx="10" ry="4.5" fill="#acff54" transform="rotate(14 283.5 630.0)"/><ellipse cx="320.0" cy="634.0" rx="11" ry="3.5" fill="#acff54" transform="rotate(14 320.0 634.0)"/><ellipse cx="350.0" cy="640.0" rx="10" ry="3.5" fill="#acff54" transform="rotate(14 350.0 640.0)"/><ellipse cx="300.0" cy="618.0" rx="8" ry="3.5" fill="#acff54" transform="rotate(14 300.0 618.0)"/><ellipse cx="336.0" cy="524.0" rx="10" ry="3.5" fill="#acff54" transform="rotate(14 336.0 524.0)"/><ellipse cx="305.0" cy="567.0" rx="7" ry="3" fill="#acff54" transform="rotate(14 305.0 567.0)"/><ellipse cx="270.0" cy="575.0" rx="7" ry="3.5" fill="#acff54" transform="rotate(14 270.0 575.0)"/><ellipse cx="340.0" cy="600.0" rx="7" ry="3" fill="#acff54" transform="rotate(14 340.0 600.0)"/><ellipse cx="310.0" cy="516.0" rx="8" ry="3" fill="#acff54" transform="rotate(14 310.0 516.0)"/><ellipse cx="360.0" cy="556.0" rx="6" ry="3" fill="#acff54" transform="rotate(14 360.0 556.0)"/><ellipse cx="265.0" cy="590.0" rx="5" ry="3" fill="#acff54" transform="rotate(14 265.0 590.0)"/><ellipse cx="300.7" cy="524.8" rx="11" ry="4.5" fill="#00f5ff" transform="rotate(14 300.7 524.8)"/><ellipse cx="330.0" cy="533.0" rx="10" ry="3.5" fill="#00f5ff" transform="rotate(14 330.0 533.0)"/><ellipse cx="360.0" cy="548.0" rx="8" ry="3.5" fill="#00f5ff" transform="rotate(14 360.0 548.0)"/><ellipse cx="290.0" cy="545.0" rx="9" ry="3.5" fill="#00f5ff" transform="rotate(14 290.0 545.0)"/><ellipse cx="315.5" cy="566.0" rx="10" ry="4.5" fill="#00f5ff" transform="rotate(14 315.5 566.0)"/><ellipse cx="345.0" cy="575.0" rx="10" ry="3.5" fill="#00f5ff" transform="rotate(14 345.0 575.0)"/><ellipse cx="275.0" cy="588.0" rx="8" ry="3.5" fill="#00f5ff" transform="rotate(14 275.0 588.0)"/><ellipse cx="305.0" cy="594.0" rx="11" ry="3.5" fill="#00f5ff" transform="rotate(14 305.0 594.0)"/><ellipse cx="340.0" cy="592.0" rx="9" ry="3.5" fill="#00f5ff" transform="rotate(14 340.0 592.0)"/><ellipse cx="372.0" cy="608.0" rx="8" ry="3.5" fill="#00f5ff" transform="rotate(14 372.0 608.0)"/><ellipse cx="295.0" cy="608.0" rx="9" ry="3.5" fill="#00f5ff" transform="rotate(14 295.0 608.0)"/><ellipse cx="330.0" cy="621.0" rx="12" ry="4" fill="#00f5ff" transform="rotate(14 330.0 621.0)"/><ellipse cx="362.0" cy="626.0" rx="8" ry="3.5" fill="#00f5ff" transform="rotate(14 362.0 626.0)"/><ellipse cx="305.0" cy="640.0" rx="10" ry="3.5" fill="#00f5ff" transform="rotate(14 305.0 640.0)"/><ellipse cx="338.0" cy="647.0" rx="10" ry="3.5" fill="#00f5ff" transform="rotate(14 338.0 647.0)"/><ellipse cx="268.0" cy="562.0" rx="7" ry="3.5" fill="#00f5ff" transform="rotate(14 268.0 562.0)"/><ellipse cx="325.0" cy="548.0" rx="7" ry="3" fill="#00f5ff" transform="rotate(14 325.0 548.0)"/><ellipse cx="355.0" cy="598.0" rx="7" ry="3" fill="#00f5ff" transform="rotate(14 355.0 598.0)"/><ellipse cx="285.0" cy="570.0" rx="7" ry="3" fill="#00f5ff" transform="rotate(14 285.0 570.0)"/><ellipse cx="320.0" cy="578.0" rx="7" ry="3" fill="#00f5ff" transform="rotate(14 320.0 578.0)"/><ellipse cx="350.0" cy="530.0" rx="7" ry="3" fill="#00f5ff" transform="rotate(14 350.0 530.0)"/><ellipse cx="280.0" cy="615.0" rx="6" ry="3" fill="#00f5ff" transform="rotate(14 280.0 615.0)"/><ellipse cx="301.8" cy="536.2" rx="5" ry="2" fill="#ceff31" transform="rotate(15 301.8 536.2)"/><ellipse cx="338.4" cy="544.2" rx="5" ry="2.2" fill="#ceff31" transform="rotate(15 338.4 544.2)"/><ellipse cx="315.5" cy="607.0" rx="6" ry="2" fill="#ceff31" transform="rotate(15 315.5 607.0)"/><ellipse cx="372.8" cy="595.7" rx="3.5" ry="2.5" fill="#d8ff27"/><ellipse cx="283.5" cy="630.0" rx="5" ry="2.5" fill="#ceff31" transform="rotate(20 283.5 630.0)"/><ellipse cx="300.7" cy="524.8" rx="5" ry="2.2" fill="#00ebff" transform="rotate(10 300.7 524.8)"/><ellipse cx="315.5" cy="566.0" rx="4" ry="2.5" fill="#00f5ff"/><ellipse cx="388.8" cy="588.8" rx="3" ry="6" fill="#0070ff"/><ellipse cx="253.7" cy="576.3" rx="3.5" ry="5" fill="#00a3ff"/><ellipse cx="371.6" cy="546.5" rx="4" ry="2.5" fill="#00a3ff" transform="rotate(30 371.6 546.5)"/><ellipse cx="262.0" cy="555.0" rx="3" ry="2.5" fill="#00c2ff"/><ellipse cx="364.7" cy="536.2" rx="3.5" ry="4" fill="#ffd300" transform="rotate(40 364.7 536.2)"/><ellipse cx="364.0" cy="641.0" rx="6" ry="3.5" fill="#ffd300" transform="rotate(-40 364.0 641.0)"/><ellipse cx="389.5" cy="603.0" rx="2.5" ry="7" fill="#ebff14"/><ellipse cx="386.0" cy="618.0" rx="2.5" ry="5" fill="#d8ff27" transform="rotate(20 386.0 618.0)"/><ellipse cx="340.0" cy="655.0" rx="6" ry="2" fill="#c4ff3b"/><ellipse cx="256.0" cy="563.0" rx="2" ry="4" fill="#c4ff3b" transform="rotate(20 256.0 563.0)"/></g><g filter="url(#b1)"><ellipse cx="366.0" cy="639.5" rx="4" ry="2" fill="#ff3700" transform="rotate(-40 366.0 639.5)"/><ellipse cx="368.5" cy="637.0" rx="2.5" ry="1.4" fill="#ee0000" transform="rotate(-40 368.5 637.0)"/><ellipse cx="366.5" cy="534.0" rx="2" ry="2.5" fill="#ff4e00" transform="rotate(40 366.5 534.0)"/><ellipse cx="369.0" cy="537.0" rx="1.2" ry="1.6" fill="#ee0000"/><ellipse cx="389.5" cy="589.0" rx="1.8" ry="4" fill="#001fff"/><ellipse cx="373.0" cy="547.5" rx="2" ry="1.2" fill="#0033ff" transform="rotate(30 373.0 547.5)"/><ellipse cx="303.0" cy="648.6" rx="2" ry="1.2" fill="#110000"/><ellipse cx="338.0" cy="511.5" rx="1.5" ry="1" fill="#220000"/><ellipse cx="348.0" cy="515.8" rx="1.5" ry="1" fill="#220000"/><ellipse cx="357.0" cy="522.5" rx="1.3" ry="1.1" fill="#ffffff"/><ellipse cx="300.0" cy="511.0" rx="2" ry="1" fill="#ffa600" transform="rotate(-25 300.0 511.0)"/><ellipse cx="322.0" cy="507.3" rx="1.6" ry="1" fill="#ff9000"/><ellipse cx="313.0" cy="506.6" rx="1.5" ry="1" fill="#005cff"/><ellipse cx="330.0" cy="509.5" rx="2" ry="1" fill="#ff9000" transform="rotate(10 330.0 509.5)"/><ellipse cx="259.5" cy="556.0" rx="1.2" ry="1.2" fill="#0029ff"/><ellipse cx="340.7" cy="656.5" rx="2" ry="1" fill="#ffd300"/><ellipse cx="312.0" cy="651.2" rx="1.2" ry="1" fill="#ffa600"/></g></g>
<path d="M224.5 485.7v6.5M224.5 679.4v-6.5M246.1 485.7v6.5M246.1 679.4v-6.5M267.6 485.7v6.5M267.6 679.4v-6.5M289.1 485.7v6.5M289.1 679.4v-6.5M310.7 485.7v6.5M310.7 679.4v-6.5M332.2 485.7v6.5M332.2 679.4v-6.5M353.8 485.7v6.5M353.8 679.4v-6.5M375.4 485.7v6.5M375.4 679.4v-6.5M396.9 485.7v6.5M396.9 679.4v-6.5M416.2 485.7v6.5M416.2 679.4v-6.5M223.2 486.6h6.5M417.0 486.6h-6.5M223.2 508.1h6.5M417.0 508.1h-6.5M223.2 529.6h6.5M417.0 529.6h-6.5M223.2 551.1h6.5M417.0 551.1h-6.5M223.2 572.6h6.5M417.0 572.6h-6.5M223.2 594.1h6.5M417.0 594.1h-6.5M223.2 615.6h6.5M417.0 615.6h-6.5M223.2 637.1h6.5M417.0 637.1h-6.5M223.2 658.6h6.5M417.0 658.6h-6.5" stroke="#0a0a0a" stroke-width="1.55" fill="none"/>
<rect x="223.2" y="485.7" width="193.8" height="193.7" fill="none" stroke="#555" stroke-width="1"/>
<text x="234.5" y="510.7" font-size="17.2">(f)</text>
<text transform="translate(13.5 123.4) rotate(-90)" text-anchor="middle" font-size="16">Step-by-step</text>
<text transform="translate(13.5 317.4) rotate(-90)" text-anchor="middle" font-size="16">Continuous</text>
<text transform="translate(17.6 581.2) rotate(-90)" text-anchor="middle" font-size="16">Difference</text>
<rect x="132.6" y="428.6" width="193.2" height="9.4" fill="url(#cm)" stroke="#444" stroke-width="0.9"/>
<text x="129.2" y="452.6" text-anchor="middle" font-size="14.7" letter-spacing="0.2">-1.5</text>
<text x="162.2" y="452.6" text-anchor="middle" font-size="14.7" letter-spacing="0.2">-1.0</text>
<text x="194.5" y="452.6" text-anchor="middle" font-size="14.7" letter-spacing="0.2">-0.5</text>
<text x="229.3" y="452.6" text-anchor="middle" font-size="14.7" letter-spacing="0.2">0.0</text>
<text x="262.5" y="452.6" text-anchor="middle" font-size="14.7" letter-spacing="0.2">0.5</text>
<text x="295.9" y="452.6" text-anchor="middle" font-size="14.7" letter-spacing="0.2">1.0</text>
<text x="325.5" y="452.6" text-anchor="middle" font-size="14.7" letter-spacing="0.2">1.5</text>
<path d="M132.6 438.0v2.6M164.8 438.0v2.6M197.0 438.0v2.6M229.2 438.0v2.6M261.4 438.0v2.6M293.6 438.0v2.6M325.8 438.0v2.6" stroke="#222" stroke-width="1"/>
<rect x="22.6" y="691.4" width="193.7" height="9.4" fill="url(#cm)" stroke="#444" stroke-width="0.9"/>
<text x="29.1" y="715.1" text-anchor="middle" font-size="14.2" letter-spacing="0.6">-0.6</text>
<text x="67.6" y="715.1" text-anchor="middle" font-size="14.2" letter-spacing="0.6">-0.4</text>
<text x="106.2" y="715.1" text-anchor="middle" font-size="14.2" letter-spacing="0.6">-0.2</text>
<text x="148.2" y="715.1" text-anchor="middle" font-size="14.2" letter-spacing="0.6">0.0</text>
<text x="187.4" y="715.1" text-anchor="middle" font-size="14.2" letter-spacing="0.6">0.2</text>
<path d="M31.0 700.8v2.6M69.8 700.8v2.6M108.6 700.8v2.6M147.4 700.8v2.6M186.2 700.8v2.6" stroke="#222" stroke-width="1"/>
<rect x="223.4" y="691.4" width="194" height="9.4" fill="url(#cm)" stroke="#444" stroke-width="0.9"/>
<text x="245.1" y="715.1" text-anchor="middle" font-size="14.2" letter-spacing="0.6">-0.6</text>
<text x="277.1" y="715.1" text-anchor="middle" font-size="14.2" letter-spacing="0.6">-0.4</text>
<text x="309.3" y="715.1" text-anchor="middle" font-size="14.2" letter-spacing="0.6">-0.2</text>
<text x="341.7" y="715.1" text-anchor="middle" font-size="14.2" letter-spacing="0.6">0.0</text>
<text x="373.6" y="715.1" text-anchor="middle" font-size="14.2" letter-spacing="0.6">0.2</text>
<text x="405.2" y="715.1" text-anchor="middle" font-size="14.2" letter-spacing="0.6">0.4</text>
<path d="M247.9 700.8v2.6M279.4 700.8v2.6M310.9 700.8v2.6M342.5 700.8v2.6M374.0 700.8v2.6M405.5 700.8v2.6" stroke="#222" stroke-width="1"/>
<text x="231.2" y="473.6" text-anchor="middle" font-size="16" letter-spacing="0.25">Strain (x10<tspan dy="-6" font-size="11.2">-3</tspan><tspan dy="6">)</tspan></text>
<text x="240.5" y="738" text-anchor="middle" font-size="16" letter-spacing="0.25">ΔStrain (x10<tspan dy="-6" font-size="11.2">-3</tspan><tspan dy="6">)</tspan></text>
<path d="M496 232.3L540.0 232.3h0.6L540.6 232.3h0.6L541.2 232.3h0.6L541.8 232.3h0.6L542.4 232.3h0.6L543.0 232.3h0.6L543.6 232.3h0.6L544.2 232.3h0.6L544.8 232.3h0.6L545.4 232.3h0.6L546.0 232.3h0.6L546.6 232.3h0.6L547.2 232.3h0.6L547.8 232.3h0.6L548.4 232.3h0.6L549.0 232.3h0.6L549.6 232.3h0.6L550.2 232.3h0.6L550.8 232.3h0.6L551.4 232.3h0.6L552.0 232.3h0.6L552.6 232.3h0.6L553.2 232.3h0.6L553.8 232.3h0.6L554.4 232.3h0.6L555.0 232.3h0.6L555.6 232.3h0.6L556.2 232.3h0.6L556.8 232.3h0.6L557.4 232.3h0.6L558.0 232.3h0.6L558.6 232.3h0.6L559.2 232.3h0.6L559.8 232.3h0.6L560.4 231.8h0.6L561.0 231.7h0.6L561.6 231.7h0.6L562.2 231.7h0.6L562.8 231.7h0.6L563.4 231.6h0.6L564.0 231.6h0.6L564.6 231.6h0.6L565.2 231.5h0.6L565.8 231.5h0.6L566.4 231.5h0.6L567.0 231.4h0.6L567.6 231.4h0.6L568.2 231.4h0.6L568.8 231.3h0.6L569.4 231.3h0.6L570.0 231.3h0.6L570.6 231.2h0.6L571.2 231.2h0.6L571.8 231.2h0.6L572.4 231.1h0.6L573.0 231.1h0.6L573.6 231.1h0.6L574.2 231.0h0.6L574.8 231.0h0.6L575.4 230.9h0.6L576.0 230.9h0.6L576.6 231.2h0.6L577.2 231.2h0.6L577.8 230.8h0.6L578.4 230.4h0.6L579.0 230.9h0.6L579.6 230.3h0.6L580.2 230.5h0.6L580.8 230.2h0.6L581.4 230.1h0.6L582.0 230.1h0.6L582.6 230.2h0.6L583.2 229.4h0.6L583.8 230.0h0.6L584.4 229.3h0.6L585.0 230.1h0.6L585.6 229.3h0.6L586.2 229.2h0.6L586.8 229.2h0.6L587.4 228.8h0.6L588.0 229.1h0.6L588.6 228.9h0.6L589.2 228.9h0.6L589.8 228.7h0.6L590.4 228.9h0.6L591.0 228.1h0.6L591.6 228.0h0.6L592.2 227.7h0.6L592.8 228.1h0.6L593.4 228.3h0.6L594.0 228.1h0.6L594.6 227.0h0.6L595.2 227.6h0.6L595.8 226.6h0.6L596.4 226.9h0.6L597.0 226.9h0.6L597.6 226.5h0.6L598.2 226.7h0.6L598.8 225.9h0.6L599.4 225.8h0.6L600.0 225.1h0.6L600.6 225.5h0.6L601.2 225.0h0.6L601.8 224.1h0.6L602.4 224.4h0.6L603.0 223.4h0.6L603.6 223.5h0.6L604.2 222.9h0.6L604.8 222.0h0.6L605.4 221.6h0.6L606.0 221.5h0.6L606.6 220.6h0.6L607.2 219.5h0.6L607.8 219.0h0.6L608.4 218.5h0.6L609.0 217.3h0.6L609.6 215.9h0.6L610.2 215.3h0.6L610.8 214.8h0.6L611.4 212.9h0.6L612.0 211.6h0.6L612.6 210.8h0.6L613.2 209.8h0.6L613.8 208.2h0.6L614.4 206.4h0.6L615.0 203.7h0.6L615.6 201.8h0.6L616.2 199.8h0.6L616.8 197.9h0.6L617.4 195.1h0.6L618.0 191.9h0.6L618.6 189.8h0.6L619.2 186.2h0.6L619.8 182.0h0.6L620.4 175.9h0.6L621.0 170.3h0.6L621.6 164.5h0.6L622.2 159.0h0.6L622.8 151.3h0.6L623.4 143.1h0.6L624.0 133.8h0.6L624.6 120.1h0.6L625.2 108.8h0.6L625.8 100.8h0.6L626.4 89.7h0.6L627.0 81.5h0.6L627.6 73.9h0.6L628.2 64.0h0.6L628.8 56.7h0.6L629.4 50.0h0.6L630.0 45.0h0.6L630.6 42.0h0.6L631.2 36.0h0.6L631.8 35.0h0.6L632.4 32.6h0.6L633.0 34.3h0.6L633.6 34.2h0.6L634.2 33.3h0.6L634.8 35.5h0.6L635.4 35.7h0.6L636.0 38.4h0.6L636.6 40.2h0.6L637.2 42.7h0.6L637.8 47.0h0.6L638.4 49.6h0.6L639.0 52.4h0.6L639.6 57.2h0.6L640.2 59.5h0.6L640.8 63.0h0.6L641.4 66.7h0.6L642.0 71.3h0.6L642.6 77.0h0.6L643.2 79.2h0.6L643.8 83.5h0.6L644.4 87.6h0.6L645.0 91.3h0.6L645.6 93.4h0.6L646.2 96.6h0.6L646.8 100.7h0.6L647.4 104.4h0.6L648.0 106.5h0.6L648.6 111.2h0.6L649.2 112.4h0.6L649.8 116.7h0.6L650.4 119.6h0.6L651.0 123.8h0.6L651.6 127.7h0.6L652.2 129.9h0.6L652.8 133.7h0.6L653.4 137.3h0.6L654.0 140.8h0.6L654.6 142.9h0.6L655.2 146.8h0.6L655.8 151.2h0.6L656.4 153.9h0.6L657.0 157.3h0.6L657.6 160.6h0.6L658.2 164.9h0.6L658.8 168.4h0.6L659.4 171.6h0.6L660.0 173.6h0.6L660.6 177.3h0.6L661.2 180.9h0.6L661.8 182.5h0.6L662.4 185.7h0.6L663.0 188.5h0.6L663.6 191.0h0.6L664.2 193.5h0.6L664.8 195.4h0.6L665.4 197.1h0.6L666.0 199.5h0.6L666.6 202.2h0.6L667.2 203.4h0.6L667.8 205.2h0.6L668.4 206.2h0.6L669.0 208.1h0.6L669.6 209.5h0.6L670.2 210.5h0.6L670.8 211.8h0.6L671.4 212.9h0.6L672.0 214.7h0.6L672.6 215.3h0.6L673.2 216.5h0.6L673.8 217.1h0.6L674.4 218.3h0.6L675.0 219.0h0.6L675.6 220.0h0.6L676.2 220.2h0.6L676.8 221.5h0.6L677.4 221.9h0.6L678.0 222.5h0.6L678.6 222.4h0.6L679.2 223.4h0.6L679.8 223.9h0.6L680.4 223.8h0.6L681.0 224.6h0.6L681.6 224.7h0.6L682.2 225.0h0.6L682.8 225.2h0.6L683.4 225.3h0.6L684.0 225.8h0.6L684.6 225.8h0.6L685.2 226.3h0.6L685.8 226.9h0.6L686.4 226.7h0.6L687.0 227.0h0.6L687.6 227.0h0.6L688.2 227.1h0.6L688.8 227.8h0.6L689.4 228.1h0.6L690.0 228.3h0.6L690.6 228.8h0.6L691.2 228.5h0.6L691.8 228.7h0.6L692.4 228.6h0.6L693.0 228.8h0.6L693.6 229.4h0.6L694.2 229.5h0.6L694.8 228.9h0.6L695.4 229.4h0.6L696.0 229.5h0.6L696.6 229.7h0.6L697.2 229.2h0.6L697.8 230.1h0.6L698.4 229.8h0.6L699.0 230.4h0.6L699.6 230.1h0.6L700.2 229.7h0.6L700.8 230.0h0.6L701.4 230.0h0.6L702.0 230.1h0.6L702.6 230.3h0.6L703.2 230.6h0.6L703.8 230.4h0.6L704.4 230.2h0.6L705.0 230.3h0.6L705.6 230.5h0.6L706.2 230.9h0.6L706.8 230.3h0.6L707.4 231.1h0.6L708.0 230.8h0.6L708.6 231.3h0.6L709.2 230.8h0.6L709.8 230.9h0.6L710.4 230.9h0.6L711.0 230.9h0.6L711.6 231.0h0.6L712.2 231.0h0.6L712.8 231.1h0.6L713.4 231.1h0.6L714.0 231.1h0.6L714.6 231.2h0.6L715.2 231.2h0.6L715.8 231.2h0.6L716.4 231.3h0.6L717.0 231.3h0.6L717.6 231.4h0.6L718.2 231.4h0.6L718.8 231.4h0.6L719.4 231.5h0.6L720.0 231.5h0.6L720.6 231.5h0.6L721.2 231.5h0.6L721.8 231.5h0.6L722.4 231.5h0.6L723.0 231.5h0.6L723.6 231.6h0.6L724.2 231.6h0.6L724.8 231.6h0.6L725.4 231.6h0.6L726.0 231.6h0.6L726.6 231.6h0.6L727.2 231.6h0.6L727.8 231.6h0.6L728.4 231.6h0.6L729.0 231.6h0.6L729.6 231.7h0.6L730.2 231.7h0.6L730.8 231.7h0.6L731.4 231.7h0.6L732.0 231.7h0.6L732.6 231.7h0.6L733.2 231.7h0.6L733.8 231.7h0.6L734.4 231.7h0.6L735.0 231.7h0.6L735.6 231.7h0.6L736.2 231.8h0.6L736.8 231.8h0.6L737.4 231.8h0.6L738.0 231.8h0.6L738.6 231.8h0.6L739.2 231.8h0.6L739.8 231.8h0.6L740.4 231.8h0.6L741.0 231.8h0.6L741.6 231.8h0.6L742.2 231.9h0.6L742.8 231.9h0.6L743.4 231.9h0.6L744.0 231.9h0.6L744.6 231.9h0.6L745.2 232.3h0.6L745.8 232.3h0.6L746.4 232.3h0.6L747.0 232.3h0.6L747.6 232.3h0.6L748.2 232.3h0.6L748.8 232.3h0.6L749.4 232.3h0.6L750.0 232.3h0.6L750.6 232.3h0.6L751.2 232.3h0.6L751.8 232.3h0.6L752.4 232.3h0.6L753.0 232.3h0.6L753.6 232.3h0.6L754.2 232.3h0.6L754.8 232.3h0.6L755.4 232.3h0.6L756.0 232.3h0.6L756.6 232.3h0.6L757.2 232.3h0.6L757.8 232.3h0.6L758.4 232.3h0.6L759.0 232.3h0.6L759.6 232.3h0.6L783.6 232.3Z" fill="#7f7fff"/>
<path d="M496 232.3L540.0 232.3h0.6L540.6 232.3h0.6L541.2 232.3h0.6L541.8 232.3h0.6L542.4 232.3h0.6L543.0 232.3h0.6L543.6 232.3h0.6L544.2 232.3h0.6L544.8 232.3h0.6L545.4 232.3h0.6L546.0 232.3h0.6L546.6 232.3h0.6L547.2 232.3h0.6L547.8 232.3h0.6L548.4 232.3h0.6L549.0 232.3h0.6L549.6 232.3h0.6L550.2 232.3h0.6L550.8 232.3h0.6L551.4 232.3h0.6L552.0 232.3h0.6L552.6 232.3h0.6L553.2 232.3h0.6L553.8 232.3h0.6L554.4 232.3h0.6L555.0 232.3h0.6L555.6 232.3h0.6L556.2 232.3h0.6L556.8 232.3h0.6L557.4 232.3h0.6L558.0 231.8h0.6L558.6 231.7h0.6L559.2 231.7h0.6L559.8 231.7h0.6L560.4 231.6h0.6L561.0 231.6h0.6L561.6 231.6h0.6L562.2 231.6h0.6L562.8 231.5h0.6L563.4 231.5h0.6L564.0 231.5h0.6L564.6 231.4h0.6L565.2 231.4h0.6L565.8 231.4h0.6L566.4 231.3h0.6L567.0 231.3h0.6L567.6 231.3h0.6L568.2 231.2h0.6L568.8 231.2h0.6L569.4 231.2h0.6L570.0 231.2h0.6L570.6 231.1h0.6L571.2 231.1h0.6L571.8 231.1h0.6L572.4 231.0h0.6L573.0 231.0h0.6L573.6 230.9h0.6L574.2 230.8h0.6L574.8 231.3h0.6L575.4 231.0h0.6L576.0 230.2h0.6L576.6 230.8h0.6L577.2 230.5h0.6L577.8 229.9h0.6L578.4 229.8h0.6L579.0 229.8h0.6L579.6 230.6h0.6L580.2 230.3h0.6L580.8 230.0h0.6L581.4 230.5h0.6L582.0 229.9h0.6L582.6 230.3h0.6L583.2 230.0h0.6L583.8 229.6h0.6L584.4 229.4h0.6L585.0 230.1h0.6L585.6 229.9h0.6L586.2 229.0h0.6L586.8 228.2h0.6L587.4 228.1h0.6L588.0 229.0h0.6L588.6 228.6h0.6L589.2 228.1h0.6L589.8 228.8h0.6L590.4 228.2h0.6L591.0 229.0h0.6L591.6 228.6h0.6L592.2 228.2h0.6L592.8 228.2h0.6L593.4 228.0h0.6L594.0 227.3h0.6L594.6 226.9h0.6L595.2 226.3h0.6L595.8 226.3h0.6L596.4 226.6h0.6L597.0 227.2h0.6L597.6 226.1h0.6L598.2 226.6h0.6L598.8 225.6h0.6L599.4 224.4h0.6L600.0 225.2h0.6L600.6 224.6h0.6L601.2 224.0h0.6L601.8 224.3h0.6L602.4 223.2h0.6L603.0 223.5h0.6L603.6 222.9h0.6L604.2 222.1h0.6L604.8 222.0h0.6L605.4 220.0h0.6L606.0 219.8h0.6L606.6 219.4h0.6L607.2 218.8h0.6L607.8 218.1h0.6L608.4 218.0h0.6L609.0 215.7h0.6L609.6 214.2h0.6L610.2 214.7h0.6L610.8 212.4h0.6L611.4 211.7h0.6L612.0 211.0h0.6L612.6 209.9h0.6L613.2 207.9h0.6L613.8 205.1h0.6L614.4 203.2h0.6L615.0 202.8h0.6L615.6 200.7h0.6L616.2 197.8h0.6L616.8 194.8h0.6L617.4 193.0h0.6L618.0 189.3h0.6L618.6 187.9h0.6L619.2 184.5h0.6L619.8 176.4h0.6L620.4 172.9h0.6L621.0 168.0h0.6L621.6 161.2h0.6L622.2 155.2h0.6L622.8 147.9h0.6L623.4 137.4h0.6L624.0 129.0h0.6L624.6 116.1h0.6L625.2 104.6h0.6L625.8 96.7h0.6L626.4 86.2h0.6L627.0 80.4h0.6L627.6 72.8h0.6L628.2 62.9h0.6L628.8 57.8h0.6L629.4 48.8h0.6L630.0 42.1h0.6L630.6 39.3h0.6L631.2 35.2h0.6L631.8 34.1h0.6L632.4 31.9h0.6L633.0 34.8h0.6L633.6 34.1h0.6L634.2 31.4h0.6L634.8 37.6h0.6L635.4 34.0h0.6L636.0 35.4h0.6L636.6 39.7h0.6L637.2 39.8h0.6L637.8 41.8h0.6L638.4 49.4h0.6L639.0 50.4h0.6L639.6 53.2h0.6L640.2 58.9h0.6L640.8 63.2h0.6L641.4 66.3h0.6L642.0 69.2h0.6L642.6 73.9h0.6L643.2 80.0h0.6L643.8 80.7h0.6L644.4 84.0h0.6L645.0 88.5h0.6L645.6 92.9h0.6L646.2 95.7h0.6L646.8 99.1h0.6L647.4 101.8h0.6L648.0 103.3h0.6L648.6 106.1h0.6L649.2 109.7h0.6L649.8 114.7h0.6L650.4 117.0h0.6L651.0 121.2h0.6L651.6 121.8h0.6L652.2 126.2h0.6L652.8 128.9h0.6L653.4 132.8h0.6L654.0 135.7h0.6L654.6 138.6h0.6L655.2 141.6h0.6L655.8 144.5h0.6L656.4 148.7h0.6L657.0 152.2h0.6L657.6 155.6h0.6L658.2 158.5h0.6L658.8 161.8h0.6L659.4 166.8h0.6L660.0 170.0h0.6L660.6 172.1h0.6L661.2 175.3h0.6L661.8 178.4h0.6L662.4 181.8h0.6L663.0 184.1h0.6L663.6 186.7h0.6L664.2 187.8h0.6L664.8 191.5h0.6L665.4 193.6h0.6L666.0 196.6h0.6L666.6 197.7h0.6L667.2 200.1h0.6L667.8 201.9h0.6L668.4 202.7h0.6L669.0 204.2h0.6L669.6 205.7h0.6L670.2 207.4h0.6L670.8 208.3h0.6L671.4 209.9h0.6L672.0 210.7h0.6L672.6 211.9h0.6L673.2 213.9h0.6L673.8 215.3h0.6L674.4 217.0h0.6L675.0 217.2h0.6L675.6 217.2h0.6L676.2 217.9h0.6L676.8 220.3h0.6L677.4 220.3h0.6L678.0 220.0h0.6L678.6 221.5h0.6L679.2 222.4h0.6L679.8 222.4h0.6L680.4 222.5h0.6L681.0 223.5h0.6L681.6 224.1h0.6L682.2 224.5h0.6L682.8 224.5h0.6L683.4 225.1h0.6L684.0 225.6h0.6L684.6 225.6h0.6L685.2 225.2h0.6L685.8 226.6h0.6L686.4 226.2h0.6L687.0 227.0h0.6L687.6 226.0h0.6L688.2 226.5h0.6L688.8 227.3h0.6L689.4 227.5h0.6L690.0 227.4h0.6L690.6 227.2h0.6L691.2 227.7h0.6L691.8 227.2h0.6L692.4 227.5h0.6L693.0 228.5h0.6L693.6 229.3h0.6L694.2 227.8h0.6L694.8 228.1h0.6L695.4 228.2h0.6L696.0 229.5h0.6L696.6 230.1h0.6L697.2 229.6h0.6L697.8 230.1h0.6L698.4 230.2h0.6L699.0 229.3h0.6L699.6 229.0h0.6L700.2 229.8h0.6L700.8 230.5h0.6L701.4 230.7h0.6L702.0 229.3h0.6L702.6 230.0h0.6L703.2 229.5h0.6L703.8 230.3h0.6L704.4 231.1h0.6L705.0 230.9h0.6L705.6 231.0h0.6L706.2 230.3h0.6L706.8 229.8h0.6L707.4 230.5h0.6L708.0 231.2h0.6L708.6 230.1h0.6L709.2 231.2h0.6L709.8 231.1h0.6L710.4 230.9h0.6L711.0 230.3h0.6L711.6 230.8h0.6L712.2 230.8h0.6L712.8 230.9h0.6L713.4 230.9h0.6L714.0 230.9h0.6L714.6 231.0h0.6L715.2 231.0h0.6L715.8 231.1h0.6L716.4 231.1h0.6L717.0 231.1h0.6L717.6 231.2h0.6L718.2 231.2h0.6L718.8 231.2h0.6L719.4 231.3h0.6L720.0 231.3h0.6L720.6 231.4h0.6L721.2 231.4h0.6L721.8 231.4h0.6L722.4 231.5h0.6L723.0 231.5h0.6L723.6 231.5h0.6L724.2 231.5h0.6L724.8 231.5h0.6L725.4 231.5h0.6L726.0 231.5h0.6L726.6 231.5h0.6L727.2 231.6h0.6L727.8 231.6h0.6L728.4 231.6h0.6L729.0 231.6h0.6L729.6 231.6h0.6L730.2 231.6h0.6L730.8 231.6h0.6L731.4 231.6h0.6L732.0 231.6h0.6L732.6 231.6h0.6L733.2 231.7h0.6L733.8 231.7h0.6L734.4 231.7h0.6L735.0 231.7h0.6L735.6 231.7h0.6L736.2 231.7h0.6L736.8 231.7h0.6L737.4 231.7h0.6L738.0 231.7h0.6L738.6 231.7h0.6L739.2 231.7h0.6L739.8 231.8h0.6L740.4 231.8h0.6L741.0 231.8h0.6L741.6 231.8h0.6L742.2 231.8h0.6L742.8 231.8h0.6L743.4 231.8h0.6L744.0 231.8h0.6L744.6 231.8h0.6L745.2 231.8h0.6L745.8 231.8h0.6L746.4 231.9h0.6L747.0 231.9h0.6L747.6 231.9h0.6L748.2 231.9h0.6L748.8 231.9h0.6L749.4 232.3h0.6L750.0 232.3h0.6L750.6 232.3h0.6L751.2 232.3h0.6L751.8 232.3h0.6L752.4 232.3h0.6L753.0 232.3h0.6L753.6 232.3h0.6L754.2 232.3h0.6L754.8 232.3h0.6L755.4 232.3h0.6L756.0 232.3h0.6L756.6 232.3h0.6L757.2 232.3h0.6L757.8 232.3h0.6L758.4 232.3h0.6L759.0 232.3h0.6L759.6 232.3h0.6L783.6 232.3Z" fill="#ff7a80" fill-opacity="0.55"/>
<rect x="495" y="23.5" width="289.6" height="208.8" fill="none" stroke="#333" stroke-width="1"/>
<text x="484.5" y="238.2" text-anchor="end" font-size="16">0</text>
<text x="484.5" y="215.0" text-anchor="end" font-size="16">500</text>
<text x="484.5" y="191.7" text-anchor="end" font-size="16">1000</text>
<text x="484.5" y="168.5" text-anchor="end" font-size="16">1500</text>
<text x="484.5" y="145.2" text-anchor="end" font-size="16">2000</text>
<text x="484.5" y="122.0" text-anchor="end" font-size="16">2500</text>
<text x="484.5" y="98.7" text-anchor="end" font-size="16">3000</text>
<text x="484.5" y="75.5" text-anchor="end" font-size="16">3500</text>
<text x="484.5" y="52.2" text-anchor="end" font-size="16">4000</text>
<text x="493.4" y="253.7" text-anchor="middle" font-size="16">-1.5</text>
<text x="537.6" y="253.7" text-anchor="middle" font-size="16">-1.0</text>
<text x="587.6" y="253.7" text-anchor="middle" font-size="16">-0.5</text>
<text x="639.3" y="253.7" text-anchor="middle" font-size="16">0.0</text>
<text x="688.1" y="253.7" text-anchor="middle" font-size="16">0.5</text>
<text x="737.2" y="253.7" text-anchor="middle" font-size="16">1.0</text>
<text x="786.7" y="253.7" text-anchor="middle" font-size="16">1.5</text>
<path d="M495 232.3h-8M495 209.1h-8M495 185.8h-8M495 162.6h-8M495 139.3h-8M495 116.1h-8M495 92.8h-8M495 69.6h-8M495 46.3h-8M495.0 232.3v8M543.2 232.3v8M591.5 232.3v8M639.7 232.3v8M688.0 232.3v8M736.2 232.3v8M784.5 232.3v8" stroke="#111" stroke-width="1.8"/>
<text x="499.4" y="48.6" font-size="17.2">(g)</text>
<text transform="translate(436.5 125.5) rotate(-90)" text-anchor="middle" font-size="16">Number of voxels</text>
<text x="641.5" y="271.3" text-anchor="middle" font-size="16" letter-spacing="0.25">Strain (x10<tspan dy="-6" font-size="11.2">-3</tspan><tspan dy="6">)</tspan></text>
<rect x="650.3" y="34.5" width="23" height="7.7" fill="#7f7fff"/>
<rect x="650.3" y="51.2" width="23" height="7.8" fill="#ff7f7f"/>
<text x="677.8" y="40.7" font-size="16.3">Step-by-step</text>
<text x="677.8" y="61.2" font-size="16">Continuous</text>
<path d="M512.53 488V487.7h2.85V488M515.38 488V487.7h2.85V488M518.23 488V487.7h2.85V488M521.08 488V487.6h2.85V488M523.92 488V487.6h2.85V488M526.77 488V487.6h2.85V488M529.62 488V487.6h2.85V488M532.46 488V487.5h2.85V488M535.31 488V487.5h2.85V488M538.16 488V487.5h2.85V488M541.00 488V487.4h2.85V488M543.85 488V487.4h2.85V488M546.70 488V487.3h2.85V488M549.55 488V487.3h2.85V488M552.39 488V487.2h2.85V488M555.24 488V487.1h2.85V488M558.09 488V487.1h2.85V488M560.93 488V487.0h2.85V488M563.78 488V486.9h2.85V488M566.63 488V486.8h2.85V488M569.48 488V486.6h2.85V488M572.32 488V486.5h2.85V488M575.17 488V486.3h2.85V488M578.02 488V486.1h2.85V488M580.86 488V485.9h2.85V488M583.71 488V485.7h2.85V488M586.56 488V485.3h2.85V488M589.40 488V485.0h2.85V488M592.25 488V484.5h2.85V488M595.10 488V483.9h2.85V488M597.94 488V483.0h2.85V488M600.79 488V481.6h2.85V488M603.64 488V479.6h2.85V488M606.49 488V476.4h2.85V488M609.33 488V471.5h2.85V488M612.18 488V464.2h2.85V488M615.03 488V453.6h2.85V488M617.87 488V439.1h2.85V488M620.72 488V420.4h2.85V488M623.57 488V397.6h2.85V488M626.41 488V372.1h2.85V488M629.26 488V345.8h2.85V488M632.11 488V321.7h2.85V488M634.96 488V304.9h2.85V488M637.80 488V294.3h2.85V488M640.65 488V290.6h2.85V488M643.50 488V301.8h2.85V488M646.34 488V321.7h2.85V488M649.19 488V345.8h2.85V488M652.04 488V372.1h2.85V488M654.88 488V397.6h2.85V488M657.73 488V420.4h2.85V488M660.58 488V439.1h2.85V488M663.43 488V453.6h2.85V488M666.27 488V464.2h2.85V488M669.12 488V471.5h2.85V488M671.97 488V476.4h2.85V488M674.81 488V479.6h2.85V488M677.66 488V481.6h2.85V488M680.51 488V483.0h2.85V488M683.36 488V483.9h2.85V488M686.20 488V484.5h2.85V488M689.05 488V485.0h2.85V488M691.90 488V485.3h2.85V488M694.74 488V485.7h2.85V488M697.59 488V485.9h2.85V488M700.44 488V486.1h2.85V488M703.28 488V486.3h2.85V488M706.13 488V486.5h2.85V488M708.98 488V486.6h2.85V488M711.82 488V486.8h2.85V488M714.67 488V486.9h2.85V488M717.52 488V487.0h2.85V488M720.37 488V487.1h2.85V488M723.21 488V487.1h2.85V488M726.06 488V487.2h2.85V488M728.91 488V487.3h2.85V488M731.75 488V487.3h2.85V488M734.60 488V487.4h2.85V488M737.45 488V487.4h2.85V488M740.29 488V487.5h2.85V488M743.14 488V487.5h2.85V488M745.99 488V487.5h2.85V488M748.84 488V487.6h2.85V488M751.68 488V487.6h2.85V488M754.53 488V487.6h2.85V488M757.38 488V487.6h2.85V488M760.22 488V487.7h2.85V488M763.07 488V487.7h2.85V488M765.92 488V487.7h2.85V488" fill="#1f77b4" stroke="#101010" stroke-width="0.65"/>
<path d="M498.3 488.0L499.0 488.0L499.7 488.0L500.4 488.0L501.1 488.0L501.9 488.0L502.6 488.0L503.3 488.0L504.0 488.0L504.7 488.0L505.4 488.0L506.1 488.0L506.8 488.0L507.6 488.0L508.3 488.0L509.0 488.0L509.7 488.0L510.4 488.0L511.1 488.0L511.8 488.0L512.5 488.0L513.2 488.0L514.0 488.0L514.7 488.0L515.4 488.0L516.1 488.0L516.8 488.0L517.5 488.0L518.2 488.0L518.9 488.0L519.7 488.0L520.4 488.0L521.1 488.0L521.8 488.0L522.5 488.0L523.2 488.0L523.9 488.0L524.6 488.0L525.3 488.0L526.1 488.0L526.8 488.0L527.5 488.0L528.2 488.0L528.9 488.0L529.6 488.0L530.3 488.0L531.0 488.0L531.8 488.0L532.5 488.0L533.2 488.0L533.9 488.0L534.6 488.0L535.3 488.0L536.0 488.0L536.7 488.0L537.4 488.0L538.2 488.0L538.9 488.0L539.6 488.0L540.3 488.0L541.0 488.0L541.7 488.0L542.4 488.0L543.1 488.0L543.9 488.0L544.6 488.0L545.3 488.0L546.0 488.0L546.7 488.0L547.4 488.0L548.1 488.0L548.8 488.0L549.5 488.0L550.3 488.0L551.0 488.0L551.7 488.0L552.4 488.0L553.1 488.0L553.8 488.0L554.5 488.0L555.2 488.0L556.0 488.0L556.7 488.0L557.4 488.0L558.1 488.0L558.8 488.0L559.5 488.0L560.2 488.0L560.9 488.0L561.6 488.0L562.4 488.0L563.1 488.0L563.8 488.0L564.5 488.0L565.2 488.0L565.9 488.0L566.6 488.0L567.3 488.0L568.1 488.0L568.8 488.0L569.5 488.0L570.2 488.0L570.9 488.0L571.6 488.0L572.3 488.0L573.0 488.0L573.7 488.0L574.5 488.0L575.2 488.0L575.9 488.0L576.6 488.0L577.3 488.0L578.0 488.0L578.7 488.0L579.4 488.0L580.2 488.0L580.9 488.0L581.6 488.0L582.3 488.0L583.0 488.0L583.7 488.0L584.4 488.0L585.1 488.0L585.8 488.0L586.6 487.9L587.3 487.9L588.0 487.9L588.7 487.9L589.4 487.9L590.1 487.8L590.8 487.8L591.5 487.8L592.3 487.7L593.0 487.6L593.7 487.6L594.4 487.5L595.1 487.4L595.8 487.3L596.5 487.1L597.2 486.9L597.9 486.8L598.7 486.5L599.4 486.3L600.1 486.0L600.8 485.6L601.5 485.2L602.2 484.8L602.9 484.2L603.6 483.6L604.4 483.0L605.1 482.2L605.8 481.3L606.5 480.4L607.2 479.3L607.9 478.1L608.6 476.7L609.3 475.3L610.0 473.6L610.8 471.8L611.5 469.8L612.2 467.6L612.9 465.2L613.6 462.7L614.3 459.9L615.0 456.8L615.7 453.6L616.5 450.1L617.2 446.4L617.9 442.4L618.6 438.2L619.3 433.8L620.0 429.2L620.7 424.3L621.4 419.2L622.1 413.9L622.9 408.4L623.6 402.8L624.3 397.0L625.0 391.1L625.7 385.1L626.4 379.1L627.1 373.0L627.8 366.9L628.6 360.8L629.3 354.8L630.0 348.9L630.7 343.1L631.4 337.6L632.1 332.2L632.8 327.1L633.5 322.4L634.2 317.9L635.0 313.8L635.7 310.1L636.4 306.9L637.1 304.1L637.8 301.7L638.5 299.9L639.2 298.6L639.9 297.8L640.6 297.5L641.4 297.8L642.1 298.6L642.8 299.9L643.5 301.7L644.2 304.1L644.9 306.9L645.6 310.1L646.3 313.8L647.1 317.9L647.8 322.4L648.5 327.1L649.2 332.2L649.9 337.6L650.6 343.1L651.3 348.9L652.0 354.8L652.7 360.8L653.5 366.9L654.2 373.0L654.9 379.1L655.6 385.1L656.3 391.1L657.0 397.0L657.7 402.8L658.4 408.4L659.2 413.9L659.9 419.2L660.6 424.3L661.3 429.2L662.0 433.8L662.7 438.2L663.4 442.4L664.1 446.4L664.8 450.1L665.6 453.6L666.3 456.8L667.0 459.9L667.7 462.7L668.4 465.2L669.1 467.6L669.8 469.8L670.5 471.8L671.3 473.6L672.0 475.3L672.7 476.7L673.4 478.1L674.1 479.3L674.8 480.4L675.5 481.3L676.2 482.2L676.9 483.0L677.7 483.6L678.4 484.2L679.1 484.8L679.8 485.2L680.5 485.6L681.2 486.0L681.9 486.3L682.6 486.5L683.4 486.8L684.1 486.9L684.8 487.1L685.5 487.3L686.2 487.4L686.9 487.5L687.6 487.6L688.3 487.6L689.0 487.7L689.8 487.8L690.5 487.8L691.2 487.8L691.9 487.9L692.6 487.9L693.3 487.9L694.0 487.9L694.7 487.9L695.5 488.0L696.2 488.0L696.9 488.0L697.6 488.0L698.3 488.0L699.0 488.0L699.7 488.0L700.4 488.0L701.1 488.0L701.9 488.0L702.6 488.0L703.3 488.0L704.0 488.0L704.7 488.0L705.4 488.0L706.1 488.0L706.8 488.0L707.6 488.0L708.3 488.0L709.0 488.0L709.7 488.0L710.4 488.0L711.1 488.0L711.8 488.0L712.5 488.0L713.2 488.0L714.0 488.0L714.7 488.0L715.4 488.0L716.1 488.0L716.8 488.0L717.5 488.0L718.2 488.0L718.9 488.0L719.7 488.0L720.4 488.0L721.1 488.0L721.8 488.0L722.5 488.0L723.2 488.0L723.9 488.0L724.6 488.0L725.3 488.0L726.1 488.0L726.8 488.0L727.5 488.0L728.2 488.0L728.9 488.0L729.6 488.0L730.3 488.0L731.0 488.0L731.8 488.0L732.5 488.0L733.2 488.0L733.9 488.0L734.6 488.0L735.3 488.0L736.0 488.0L736.7 488.0L737.4 488.0L738.2 488.0L738.9 488.0L739.6 488.0L740.3 488.0L741.0 488.0L741.7 488.0L742.4 488.0L743.1 488.0L743.9 488.0L744.6 488.0L745.3 488.0L746.0 488.0L746.7 488.0L747.4 488.0L748.1 488.0L748.8 488.0L749.5 488.0L750.3 488.0L751.0 488.0L751.7 488.0L752.4 488.0L753.1 488.0L753.8 488.0L754.5 488.0L755.2 488.0L756.0 488.0L756.7 488.0L757.4 488.0L758.1 488.0L758.8 488.0L759.5 488.0L760.2 488.0L760.9 488.0L761.6 488.0L762.4 488.0L763.1 488.0L763.8 488.0L764.5 488.0L765.2 488.0L765.9 488.0L766.6 488.0L767.3 488.0L768.1 488.0L768.8 488.0L769.5 488.0L770.2 488.0L770.9 488.0L771.6 488.0L772.3 488.0L773.0 488.0L773.7 488.0L774.5 488.0L775.2 488.0L775.9 488.0L776.6 488.0L777.3 488.0L778.0 488.0L778.7 488.0L779.4 488.0L780.2 488.0L780.9 488.0L781.6 488.0L782.3 488.0L783.0 488.0" fill="none" stroke="#ee1111" stroke-width="1.6" stroke-dasharray="5.5 2.5"/>
<rect x="498.3" y="281.5" width="284.7" height="206.5" fill="none" stroke="#777" stroke-width="1"/>
<text x="489.5" y="494.7" text-anchor="end" font-size="15.4">0</text>
<text x="489.5" y="454.0" text-anchor="end" font-size="15.4">2000</text>
<text x="489.5" y="413.3" text-anchor="end" font-size="15.4">4000</text>
<text x="489.5" y="372.6" text-anchor="end" font-size="15.4">6000</text>
<text x="489.5" y="331.9" text-anchor="end" font-size="15.4">8000</text>
<text x="489.5" y="291.2" text-anchor="end" font-size="15.4">10000</text>
<text x="522.9" y="513.8" text-anchor="middle" font-size="16">-0.4</text>
<text x="578.4" y="513.8" text-anchor="middle" font-size="16">-0.2</text>
<text x="641.5" y="513.8" text-anchor="middle" font-size="16">0.0</text>
<text x="699.6" y="513.8" text-anchor="middle" font-size="16">0.2</text>
<text x="754.2" y="513.8" text-anchor="middle" font-size="16">0.4</text>
<path d="M498.3 488.0h-8M498.3 447.3h-8M498.3 406.6h-8M498.3 365.9h-8M498.3 325.2h-8M498.3 284.5h-8M526.8 488v8M583.7 488v8M640.6 488v8M697.6 488v8M754.5 488v8" stroke="#111" stroke-width="1.8"/>
<text x="501.7" y="300.3" font-size="17.2">(h)</text>
<text transform="translate(440 379.6) rotate(-90)" text-anchor="middle" font-size="16">Number of voxels</text>
<text x="641" y="531.8" text-anchor="middle" font-size="16" letter-spacing="0.25">Strain shift (x10<tspan dy="-6" font-size="11.2">-3</tspan><tspan dy="6">)</tspan></text>
</svg>
</body></html>
